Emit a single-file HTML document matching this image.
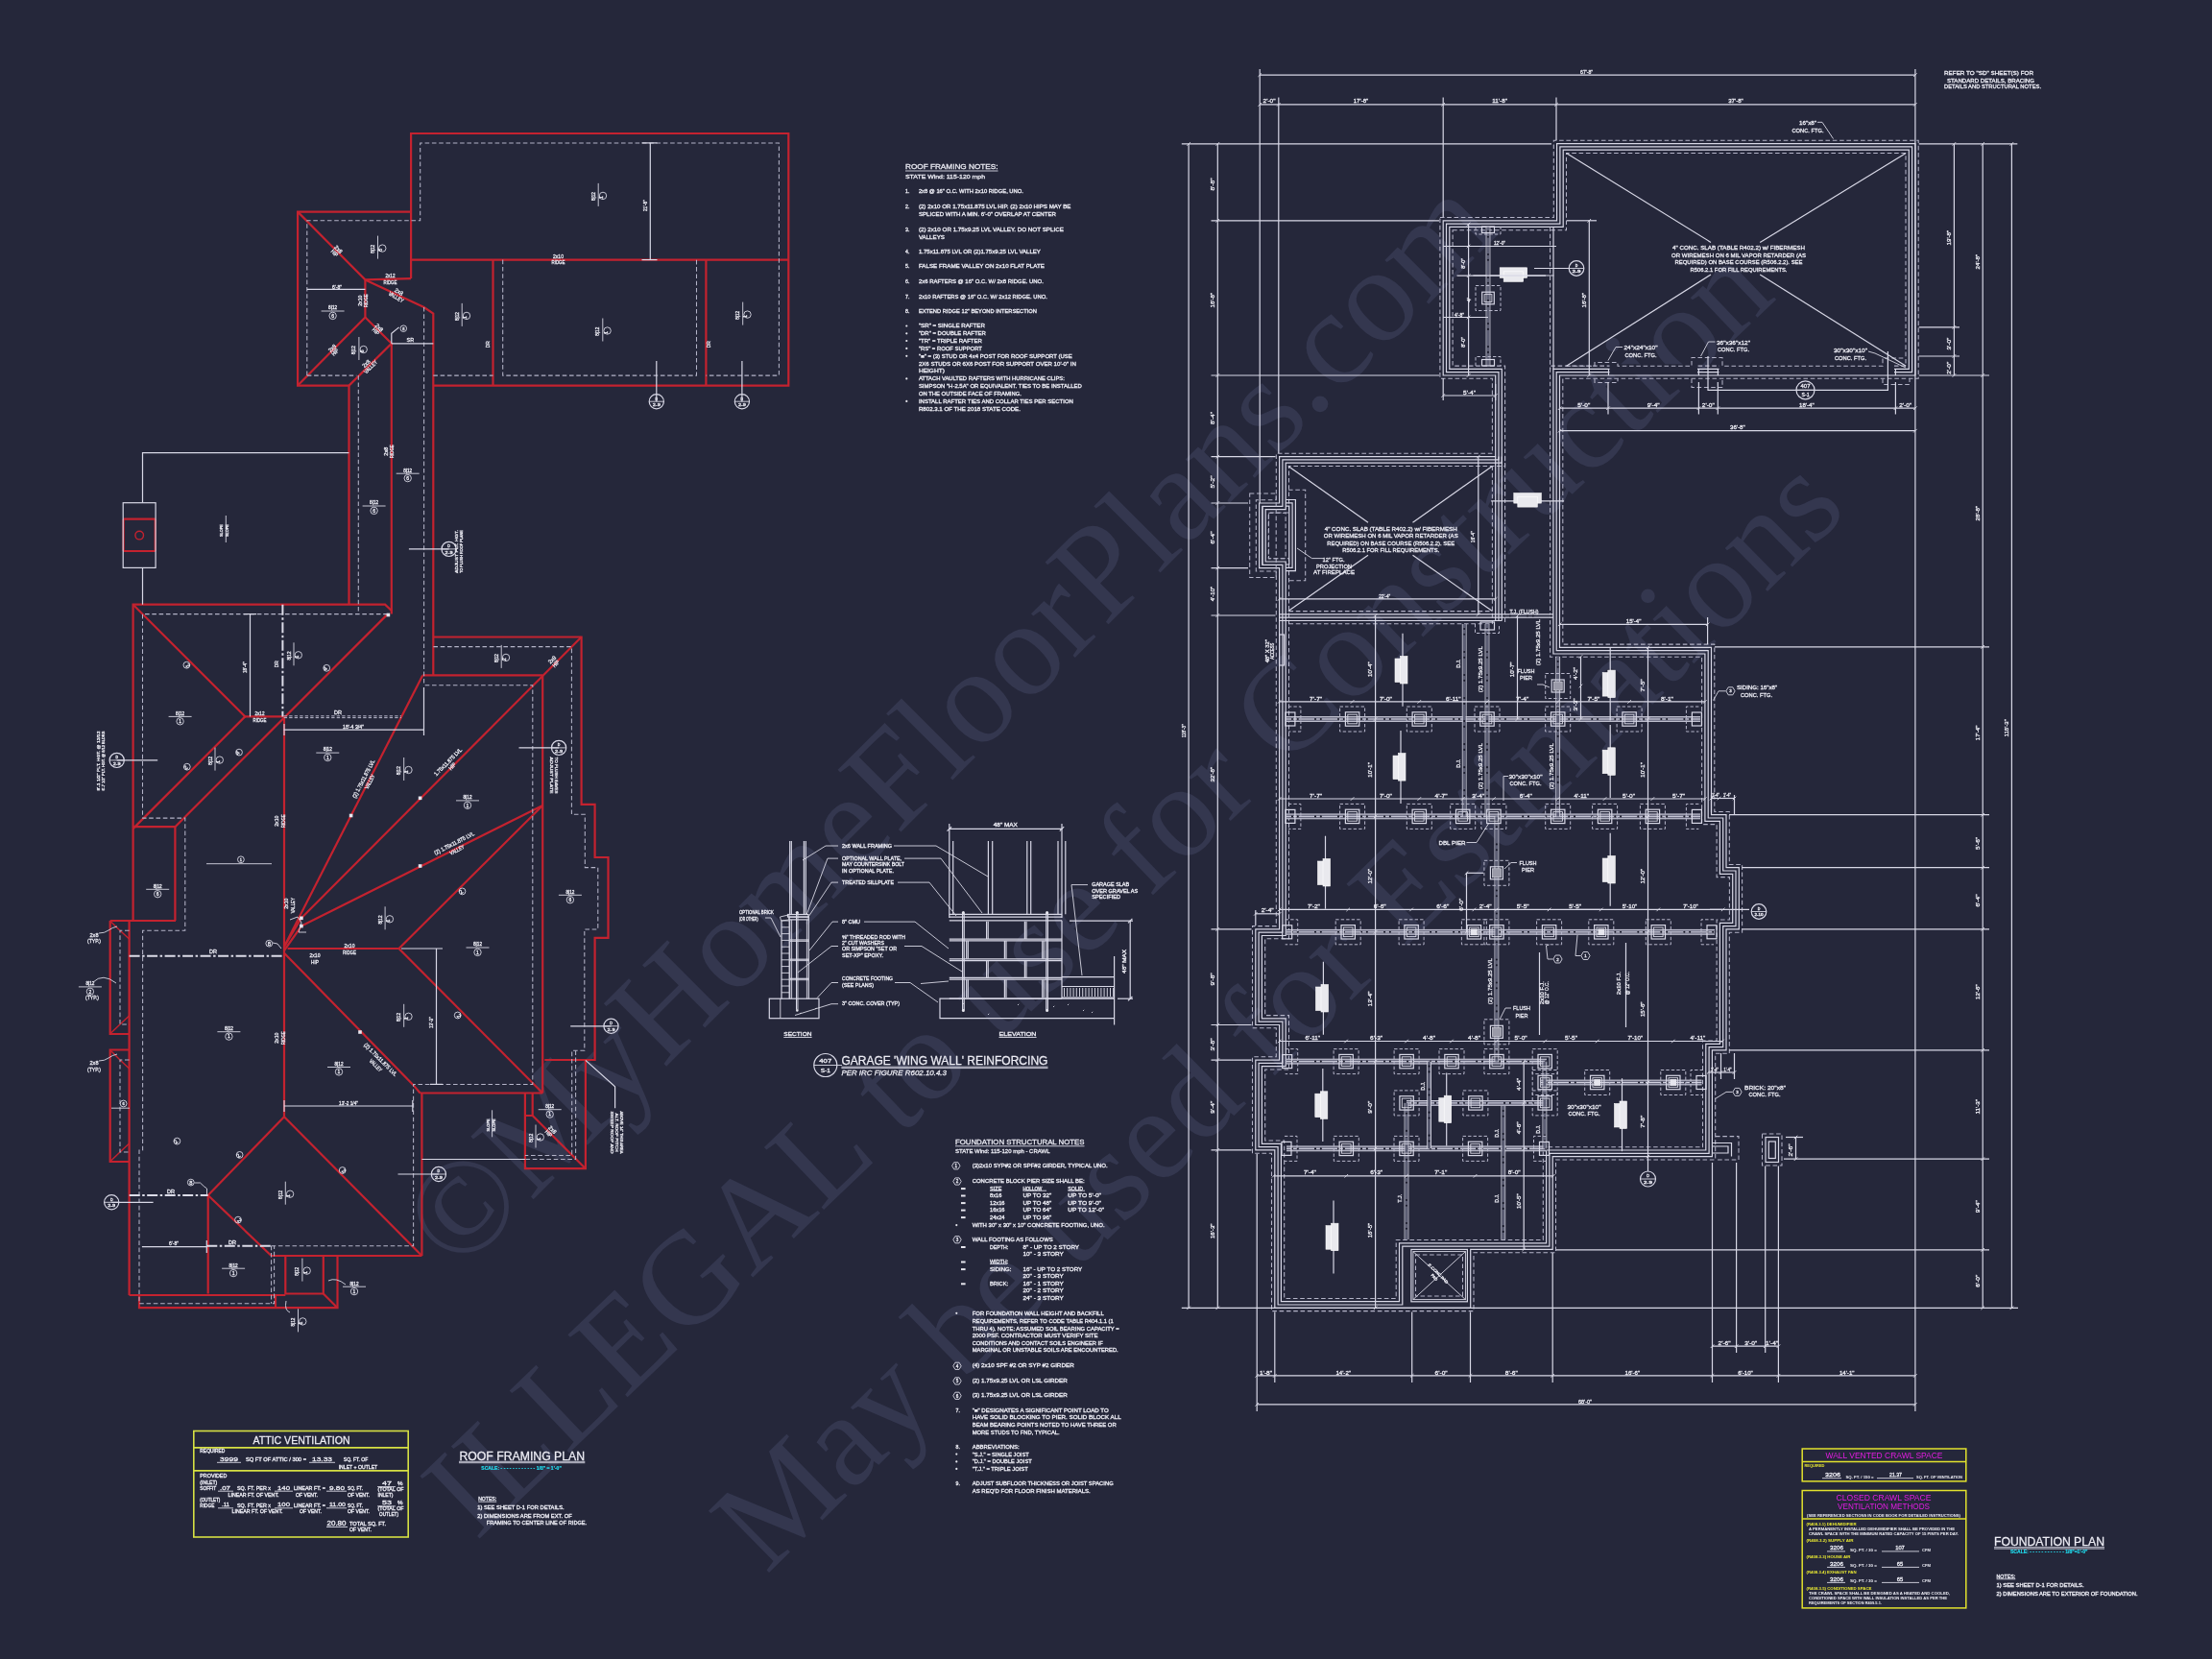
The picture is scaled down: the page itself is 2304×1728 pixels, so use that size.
<!DOCTYPE html>
<html><head><meta charset="utf-8"><title>Plan</title>
<style>
html,body{margin:0;padding:0;background:#25273a;}
body{width:2304px;height:1728px;overflow:hidden;}
svg{display:block;font-family:"Liberation Sans",sans-serif;will-change:transform;}
path,rect,circle,polygon{fill:none;stroke-linecap:butt;stroke-linejoin:miter;}
.r{stroke:#c4222f;stroke-width:2.2;}
.r1{stroke:#c4222f;stroke-width:1.4;}
.w{stroke:#d8d8e6;stroke-width:1.2;}
.w2{stroke:#e4e4ee;stroke-width:2;}
.wt{stroke:#d8d8e4;stroke-width:.9;}
.d{stroke:#b4b4c8;stroke-width:1.05;stroke-dasharray:4.6 2.7;}
.dd{stroke:#dcdce8;stroke-width:2;stroke-dasharray:11 2.5 2.5 2.5;}
.ds{stroke:#b8b8cc;stroke-width:1;stroke-dasharray:3.4 2.1;}
.y{stroke:#d6e043;stroke-width:1.6;}
.y2{stroke:#e2e22e;stroke-width:1.5;}
.wf{fill:#e6e6ee;stroke:none;}
.wf2{fill:#e9e9ee;stroke:#ffffff;stroke-width:.6;}
.wh{fill:#9a9aa8;stroke:#e0e0e8;stroke-width:.6;}
.bg{fill:#25273a;stroke:none;}
.grav{stroke:#d0d0dc;stroke-width:9;stroke-dasharray:1 2.2;}
.gdot{stroke:#1b1c2b;stroke-width:2.1;stroke-linecap:round;stroke-dasharray:0.01 5.8 0.01 18.2;}
.wg{stroke:#5c5e74;stroke-width:2.8;}
.wl{stroke:#d4d4e2;stroke-width:.95;}
.wband{stroke:#6e6f84;stroke-width:5.2;}
.t{fill:#ececf4;stroke:#ececf4;stroke-width:.28px;}
.tb{fill:#eeeef6;font-weight:bold;}
.ty{fill:#e8e832;font-weight:bold;}
.tm{fill:#e21de2;}
.tcy{fill:#22dcee;font-weight:bold;stroke:#22dcee;stroke-width:.2px;}
.wm{fill:#34374f;font-family:"Liberation Serif",serif;}
</style></head><body>
<svg width="2304" height="1728" viewBox="0 0 2304 1728">
<g class="wm">
<text font-size="141" transform="translate(477,1327.8) rotate(-45)">©MyHomeFloorPlans.com</text>
<text font-size="137.6" transform="translate(496.1,1605.9) rotate(-43.7)">ILLEGAL to use for Construction</text>
<text font-size="137.5" transform="translate(798.2,1640.8) rotate(-44.5)">May be used for Estimations</text>
</g>
<path class="r" d="M428.1 290.1L428.1 139L821.3 139L821.3 401.6L451.3 401.6"/>
<path class="r" d="M428.1 270.6L821.3 270.6"/>
<path class="r" d="M513.5 270.6L513.5 401.6"/>
<path class="r" d="M735.4 270.6L735.4 401.6"/>
<path class="r" d="M428.1 220.6L310.1 220.6L310.1 401.6L363.5 401.6L363.5 629.7"/>
<path class="r" d="M310.1 220.6L380.4 291.4L428.1 290.1"/>
<path class="r" d="M380.4 291.4L380.4 330.5L310.1 401.6"/>
<path class="r" d="M380.4 330.5L407.8 357.8L363.5 401.6"/>
<path class="r" d="M380.4 291.4L441.6 320L451.3 326.6L451.3 703.4"/>
<path class="r" d="M407.8 357.8L407.8 639.6"/>
<path class="r" d="M138.6 959L138.6 629.7L401.1 629.7L407.8 636"/>
<path class="r" d="M138.6 629.7L255.3 746.4L296 746.4"/>
<path class="r" d="M403.8 639.6L182.4 861.2"/>
<path class="r" d="M255.3 746.4L138.6 863.1"/>
<path class="r" d="M296 746.4L296 1163.3"/>
<path class="r" d="M138.6 861.2L182.4 861.2L182.4 959"/>
<path class="r" d="M114.7 959L183 959"/>
<path class="r" d="M114.7 959L114.7 1077L134.6 1077"/>
<path class="r" d="M134.6 959L134.6 1349"/>
<path class="r" d="M134.6 1093.5L114.7 1093.5L114.7 1210L134.6 1210"/>
<path class="r1" d="M115.5 960L125 969.3"/>
<path class="r1" d="M125 1067L115.5 1076"/>
<path class="r1" d="M115.5 1094.5L125 1104"/>
<path class="r1" d="M125 1200L115.5 1209"/>
<path class="r1" d="M125 969.3L134.6 978"/>
<path class="r1" d="M125 1067L134.6 1058"/>
<path class="r1" d="M125 1104L134.6 1113"/>
<path class="r1" d="M125 1200L134.6 1191"/>
<path class="r" d="M299.6 988L415.5 988"/>
<path class="r" d="M296 986L440.2 703.4"/>
<path class="r" d="M605.6 663.5L313.9 956.3"/>
<path class="r" d="M313.9 964.6L565.2 839"/>
<path class="r" d="M415.5 988L565.2 839"/>
<path class="r" d="M415.5 988L565.2 1138.5"/>
<path class="r" d="M296 992.7L429.8 1129.4L437.6 1138.5"/>
<path class="r" d="M296 986L313.9 956.3"/>
<path class="r" d="M296 990L313.9 964.6"/>
<path class="r" d="M565.2 703.4L565.2 1138.5"/>
<path class="r" d="M437.6 1138.5L565.2 1138.5"/>
<path class="r" d="M439.4 1138.5L439.4 1308"/>
<path class="r" d="M440.2 703.4L565.2 703.4"/>
<path class="r" d="M451.3 663.5L605.6 663.5L605.6 837.8L619.6 837.8L619.6 893L633.5 893L633.5 976.8L619.6 976.8L619.6 1104L567.3 1104"/>
<path class="r" d="M296 1163.3L216.7 1245"/>
<path class="r" d="M296 1163.3L439.4 1308"/>
<path class="r" d="M216.7 1245L282.6 1308"/>
<path class="r" d="M216.7 1245L216.7 1347.5"/>
<path class="r" d="M134.6 1349L297.3 1349"/>
<path class="r" d="M145 1349L145 1362.2L351.5 1362.2L351.5 1308"/>
<path class="r" d="M282.6 1308L439.4 1308"/>
<path class="r" d="M297.3 1308L297.3 1347.5L336.8 1347.5L336.8 1308"/>
<path class="r" d="M336.8 1347.5L351.5 1362.2"/>
<path class="r" d="M287 1349L287 1362.2"/>
<path class="r" d="M546.9 1138.1L546.9 1217.2L609.9 1217.2L609.9 1104"/>
<path class="r" d="M546.9 1162L554.7 1162L554.7 1138.1"/>
<path class="r" d="M554.7 1162L609.4 1216.7"/>
<path class="r" d="M128.2 540.6L162.1 540.6"/>
<path class="r" d="M128.2 574L162.1 574"/>
<path class="r" d="M128.6 540.6L128.6 574"/>
<path class="r" d="M161.7 540.6L161.7 574"/>
<circle class="r1" cx="145.2" cy="557.6" r="4.3"/>
<rect class="w" x="128.2" y="523.7" width="33.9" height="67.7"/>
<path class="w" d="M363.4 471.6L148.5 471.6L148.5 523.7"/>
<path class="w" d="M148.5 591.4L148.5 629.7"/>
<path class="d" d="M319.8 391.1L319.8 229.7L437.7 229.7L437.7 148.9L811.4 148.9L811.4 391.1L735.4 391.1"/>
<path class="d" d="M319.8 391.1L371.3 391.1"/>
<path class="d" d="M451.3 391.1L513.5 391.1"/>
<path class="d" d="M523.7 270.6L523.7 391.1L725.5 391.1L725.5 270.6"/>
<path class="d" d="M441.6 320L441.6 713.8"/>
<path class="d" d="M373.3 391.1L373.3 639.6"/>
<path class="d" d="M403.8 639.6L148.5 639.6L148.5 852.1L192.8 852.1L192.8 969.3L148.6 969.3L148.6 1198L145 1198L145 1357.8L285.6 1357.8L285.6 1297.7"/>
<path class="d" d="M282.6 1297.7L282.6 1357.8"/>
<path class="d" d="M282.6 1297.7L430.6 1297.7L430.6 1129.4L554.8 1129.4L554.8 713.8L441.5 713.8"/>
<path class="d" d="M451.4 673.6L595.4 673.6L595.4 848.3L609.3 848.3L609.3 903.6L622.8 903.6L622.8 967.9L608.8 967.9L608.8 1094.3L595.7 1094.3L595.7 1203.5L546.9 1203.5"/>
<path class="d" d="M599.6 1094.3L599.6 1207.4L546.9 1207.4"/>
<path class="d" d="M134.6 969.3L125 969.3L125 1067L134.6 1067"/>
<path class="d" d="M134.6 1104L125 1104L125 1200L134.6 1200"/>
<path class="w" d="M677.3 148.9L677.3 270.6"/>
<path class="w" d="M668.5 148.9L684.5 148.9"/>
<path class="w" d="M668.5 270.6L684.5 270.6"/>
<path class="w" d="M319.8 301.4L380.4 301.4"/>
<path class="w" d="M260.5 639.6L260.5 746.4"/>
<path class="w" d="M254 639.6L267 639.6"/>
<path class="dd" d="M294.4 629.7L294.4 746.4"/>
<path class="ds" d="M295.7 745.8L418 745.8"/>
<path class="ds" d="M295.7 747.6L418 747.6"/>
<path class="w" d="M295.7 760.2L441.5 760.2"/>
<path class="w" d="M441.5 716L441.5 766"/>
<path class="w" d="M296 754L296 766"/>
<path class="w" d="M454.5 988L454.5 1129.4"/>
<path class="w" d="M418 988L461 988"/>
<path class="w" d="M448 1129.4L461 1129.4"/>
<path class="w" d="M296 1152L429.8 1152"/>
<path class="w" d="M296 1146L296 1158"/>
<path class="w" d="M429.8 1146L429.8 1158"/>
<path class="dd" d="M134.6 995.8L296 995.8"/>
<path class="dd" d="M134.7 1245L216.7 1245"/>
<path class="dd" d="M215.3 1297.7L282.6 1297.7"/>
<path class="w" d="M147.9 1298.6L215.3 1298.6"/>
<path class="w" d="M215.3 1292L215.3 1305"/>
<path class="w" d="M439.4 1207.5L546.9 1207.5"/>
<path class="w" d="M609.9 1104.4L640.6 1131.8L640.6 1154.2"/>
<rect class="wf" x="363.8" y="847.7" width="3.6" height="3.6"/>
<rect class="wf" x="435.8" y="829.5" width="3.6" height="3.6"/>
<rect class="wf" x="435.8" y="900.2" width="3.6" height="3.6"/>
<rect class="wf" x="312.1" y="954.5" width="3.6" height="3.6"/>
<rect class="wf" x="312.1" y="962.8" width="3.6" height="3.6"/>
<rect class="wf" x="373.2" y="1073.2" width="3.6" height="3.6"/>
<rect class="wf" x="402.6" y="638.7" width="3.6" height="3.6"/>
<path class="wt" d="M623.2 190.9L623.2 214.9"/>
<text class="t" x="619.8" y="204.6" font-size="4.6" text-anchor="middle" transform="rotate(-90 619.8 204.6)" textLength="9" lengthAdjust="spacingAndGlyphs">8|12</text>
<circle class="wt" cx="628" cy="203.9" r="3.7"/>
<text class="t" x="628" y="205.7" font-size="5" text-anchor="middle" transform="rotate(-90 628 205.7)">1</text>
<path class="wt" d="M393.5 245.6L393.5 269.6"/>
<text class="t" x="390.1" y="259.3" font-size="4.6" text-anchor="middle" transform="rotate(-90 390.1 259.3)" textLength="9" lengthAdjust="spacingAndGlyphs">8|12</text>
<circle class="wt" cx="398.3" cy="258.6" r="3.7"/>
<text class="t" x="398.3" y="260.4" font-size="5" text-anchor="middle" transform="rotate(-90 398.3 260.4)">6</text>
<path class="wt" d="M481.2 315.9L481.2 339.9"/>
<text class="t" x="477.8" y="329.6" font-size="4.6" text-anchor="middle" transform="rotate(-90 477.8 329.6)" textLength="9" lengthAdjust="spacingAndGlyphs">8|12</text>
<circle class="wt" cx="486" cy="328.9" r="3.7"/>
<text class="t" x="486" y="330.7" font-size="5" text-anchor="middle" transform="rotate(-90 486 330.7)">1</text>
<path class="wt" d="M627.8 331.5L627.8 355.5"/>
<text class="t" x="624.4" y="345.2" font-size="4.6" text-anchor="middle" transform="rotate(-90 624.4 345.2)" textLength="9" lengthAdjust="spacingAndGlyphs">8|12</text>
<circle class="wt" cx="632.6" cy="344.5" r="3.7"/>
<text class="t" x="632.6" y="346.3" font-size="5" text-anchor="middle" transform="rotate(-90 632.6 346.3)">1</text>
<path class="wt" d="M773.7 314.6L773.7 338.6"/>
<text class="t" x="770.3" y="328.3" font-size="4.6" text-anchor="middle" transform="rotate(-90 770.3 328.3)" textLength="9" lengthAdjust="spacingAndGlyphs">8|12</text>
<circle class="wt" cx="778.5" cy="327.6" r="3.7"/>
<text class="t" x="778.5" y="329.4" font-size="5" text-anchor="middle" transform="rotate(-90 778.5 329.4)">1</text>
<path class="wt" d="M373.9 351L373.9 375"/>
<text class="t" x="370.5" y="364.7" font-size="4.6" text-anchor="middle" transform="rotate(-90 370.5 364.7)" textLength="9" lengthAdjust="spacingAndGlyphs">8|12</text>
<circle class="wt" cx="378.7" cy="364" r="3.7"/>
<text class="t" x="378.7" y="365.8" font-size="5" text-anchor="middle" transform="rotate(-90 378.7 365.8)">6</text>
<path class="wt" d="M306 669.3L306 693.3"/>
<text class="t" x="302.6" y="683" font-size="4.6" text-anchor="middle" transform="rotate(-90 302.6 683)" textLength="9" lengthAdjust="spacingAndGlyphs">8|12</text>
<circle class="wt" cx="310.8" cy="682.3" r="3.7"/>
<text class="t" x="310.8" y="684.1" font-size="5" text-anchor="middle" transform="rotate(-90 310.8 684.1)">1</text>
<path class="wt" d="M522.2 671.9L522.2 695.9"/>
<text class="t" x="518.8" y="685.6" font-size="4.6" text-anchor="middle" transform="rotate(-90 518.8 685.6)" textLength="9" lengthAdjust="spacingAndGlyphs">8|12</text>
<circle class="wt" cx="527" cy="684.9" r="3.7"/>
<text class="t" x="527" y="686.7" font-size="5" text-anchor="middle" transform="rotate(-90 527 686.7)">2</text>
<path class="wt" d="M224 778.6L224 802.6"/>
<text class="t" x="220.6" y="792.3" font-size="4.6" text-anchor="middle" transform="rotate(-90 220.6 792.3)" textLength="9" lengthAdjust="spacingAndGlyphs">8|12</text>
<circle class="wt" cx="228.8" cy="791.6" r="3.7"/>
<text class="t" x="228.8" y="793.4" font-size="5" text-anchor="middle" transform="rotate(-90 228.8 793.4)">1</text>
<path class="wt" d="M420.7 789L420.7 813"/>
<text class="t" x="417.3" y="802.7" font-size="4.6" text-anchor="middle" transform="rotate(-90 417.3 802.7)" textLength="9" lengthAdjust="spacingAndGlyphs">8|12</text>
<circle class="wt" cx="425.5" cy="802" r="3.7"/>
<text class="t" x="425.5" y="803.8" font-size="5" text-anchor="middle" transform="rotate(-90 425.5 803.8)">1</text>
<path class="wt" d="M401.1 944.3L401.1 968.3"/>
<text class="t" x="397.7" y="958" font-size="4.6" text-anchor="middle" transform="rotate(-90 397.7 958)" textLength="9" lengthAdjust="spacingAndGlyphs">8|12</text>
<circle class="wt" cx="405.9" cy="957.3" r="3.7"/>
<text class="t" x="405.9" y="959.1" font-size="5" text-anchor="middle" transform="rotate(-90 405.9 959.1)">1</text>
<path class="wt" d="M420.7 1045.8L420.7 1069.8"/>
<text class="t" x="417.3" y="1059.5" font-size="4.6" text-anchor="middle" transform="rotate(-90 417.3 1059.5)" textLength="9" lengthAdjust="spacingAndGlyphs">8|12</text>
<circle class="wt" cx="425.5" cy="1058.8" r="3.7"/>
<text class="t" x="425.5" y="1060.6" font-size="5" text-anchor="middle" transform="rotate(-90 425.5 1060.6)">1</text>
<path class="wt" d="M297.3 1230.7L297.3 1254.7"/>
<text class="t" x="293.9" y="1244.4" font-size="4.6" text-anchor="middle" transform="rotate(-90 293.9 1244.4)" textLength="9" lengthAdjust="spacingAndGlyphs">8|12</text>
<circle class="wt" cx="302.1" cy="1243.7" r="3.7"/>
<text class="t" x="302.1" y="1245.5" font-size="5" text-anchor="middle" transform="rotate(-90 302.1 1245.5)">1</text>
<path class="wt" d="M314.9 1310.6L314.9 1334.6"/>
<text class="t" x="311.5" y="1324.3" font-size="4.6" text-anchor="middle" transform="rotate(-90 311.5 1324.3)" textLength="9" lengthAdjust="spacingAndGlyphs">8|12</text>
<circle class="wt" cx="319.7" cy="1323.6" r="3.7"/>
<text class="t" x="319.7" y="1325.4" font-size="5" text-anchor="middle" transform="rotate(-90 319.7 1325.4)">1</text>
<path class="wt" d="M558 1171.5L558 1195.5"/>
<text class="t" x="554.6" y="1185.2" font-size="4.6" text-anchor="middle" transform="rotate(-90 554.6 1185.2)" textLength="9" lengthAdjust="spacingAndGlyphs">8|12</text>
<circle class="wt" cx="562.8" cy="1184.5" r="3.7"/>
<text class="t" x="562.8" y="1186.3" font-size="5" text-anchor="middle" transform="rotate(-90 562.8 1186.3)">1</text>
<path class="wt" d="M310.5 1363.4L310.5 1387.4"/>
<text class="t" x="307.1" y="1377.1" font-size="4.6" text-anchor="middle" transform="rotate(-90 307.1 1377.1)" textLength="9" lengthAdjust="spacingAndGlyphs">8|12</text>
<circle class="wt" cx="315.3" cy="1376.4" r="3.7"/>
<text class="t" x="315.3" y="1378.2" font-size="5" text-anchor="middle" transform="rotate(-90 315.3 1378.2)">1</text>
<path class="wt" d="M334.6 324L358.6 324"/>
<text class="t" x="346.6" y="322.3" font-size="4.6" text-anchor="middle" textLength="9" lengthAdjust="spacingAndGlyphs">8|12</text>
<circle class="wt" cx="346.6" cy="328.9" r="3.7"/>
<text class="t" x="346.6" y="330.7" font-size="5" text-anchor="middle">6</text>
<path class="wt" d="M412.7 493.2L436.7 493.2"/>
<text class="t" x="424.7" y="491.5" font-size="4.6" text-anchor="middle" textLength="9" lengthAdjust="spacingAndGlyphs">8|12</text>
<circle class="wt" cx="424.7" cy="498.1" r="3.7"/>
<text class="t" x="424.7" y="499.9" font-size="5" text-anchor="middle">6</text>
<path class="wt" d="M377.6 527L401.6 527"/>
<text class="t" x="389.6" y="525.3" font-size="4.6" text-anchor="middle" textLength="9" lengthAdjust="spacingAndGlyphs">8|12</text>
<circle class="wt" cx="389.6" cy="531.9" r="3.7"/>
<text class="t" x="389.6" y="533.7" font-size="5" text-anchor="middle">6</text>
<path class="wt" d="M175.6 746.4L199.6 746.4"/>
<text class="t" x="187.6" y="744.7" font-size="4.6" text-anchor="middle" textLength="9" lengthAdjust="spacingAndGlyphs">8|12</text>
<circle class="wt" cx="187.6" cy="751.3" r="3.7"/>
<text class="t" x="187.6" y="753.1" font-size="5" text-anchor="middle">1</text>
<path class="wt" d="M329.3 784.1L353.3 784.1"/>
<text class="t" x="341.3" y="782.4" font-size="4.6" text-anchor="middle" textLength="9" lengthAdjust="spacingAndGlyphs">8|12</text>
<circle class="wt" cx="341.3" cy="789" r="3.7"/>
<text class="t" x="341.3" y="790.8" font-size="5" text-anchor="middle">1</text>
<path class="wt" d="M475 833.9L499 833.9"/>
<text class="t" x="487" y="832.2" font-size="4.6" text-anchor="middle" textLength="9" lengthAdjust="spacingAndGlyphs">8|12</text>
<circle class="wt" cx="487" cy="838.8" r="3.7"/>
<text class="t" x="487" y="840.6" font-size="5" text-anchor="middle">1</text>
<path class="wt" d="M152.2 926.3L176.2 926.3"/>
<text class="t" x="164.2" y="924.6" font-size="4.6" text-anchor="middle" textLength="9" lengthAdjust="spacingAndGlyphs">8|12</text>
<circle class="wt" cx="164.2" cy="931.2" r="3.7"/>
<text class="t" x="164.2" y="933" font-size="5" text-anchor="middle">6</text>
<path class="wt" d="M581.9 932.3L605.9 932.3"/>
<text class="t" x="593.9" y="930.6" font-size="4.6" text-anchor="middle" textLength="9" lengthAdjust="spacingAndGlyphs">8|12</text>
<circle class="wt" cx="593.9" cy="937.2" r="3.7"/>
<text class="t" x="593.9" y="939" font-size="5" text-anchor="middle">6</text>
<path class="wt" d="M485.5 987L509.5 987"/>
<text class="t" x="497.5" y="985.3" font-size="4.6" text-anchor="middle" textLength="9" lengthAdjust="spacingAndGlyphs">8|12</text>
<circle class="wt" cx="497.5" cy="991.9" r="3.7"/>
<text class="t" x="497.5" y="993.7" font-size="5" text-anchor="middle">1</text>
<path class="wt" d="M226.4 1074.7L250.4 1074.7"/>
<text class="t" x="238.4" y="1073" font-size="4.6" text-anchor="middle" textLength="9" lengthAdjust="spacingAndGlyphs">8|12</text>
<circle class="wt" cx="238.4" cy="1079.6" r="3.7"/>
<text class="t" x="238.4" y="1081.4" font-size="5" text-anchor="middle">1</text>
<path class="wt" d="M341 1111.5L365 1111.5"/>
<text class="t" x="353" y="1109.8" font-size="4.6" text-anchor="middle" textLength="9" lengthAdjust="spacingAndGlyphs">8|12</text>
<circle class="wt" cx="353" cy="1116.4" r="3.7"/>
<text class="t" x="353" y="1118.2" font-size="5" text-anchor="middle">1</text>
<path class="wt" d="M81.9 1027.9L105.9 1027.9"/>
<text class="t" x="93.9" y="1026.2" font-size="4.6" text-anchor="middle" textLength="9" lengthAdjust="spacingAndGlyphs">8|12</text>
<circle class="wt" cx="93.9" cy="1032.8" r="3.7"/>
<text class="t" x="93.9" y="1034.6" font-size="5" text-anchor="middle">2</text>
<path class="wt" d="M231.1 1321.2L255.1 1321.2"/>
<text class="t" x="243.1" y="1319.5" font-size="4.6" text-anchor="middle" textLength="9" lengthAdjust="spacingAndGlyphs">8|12</text>
<circle class="wt" cx="243.1" cy="1326.1" r="3.7"/>
<text class="t" x="243.1" y="1327.9" font-size="5" text-anchor="middle">1</text>
<path class="wt" d="M560.7 1155.7L584.7 1155.7"/>
<text class="t" x="572.7" y="1154" font-size="4.6" text-anchor="middle" textLength="9" lengthAdjust="spacingAndGlyphs">8|12</text>
<circle class="wt" cx="572.7" cy="1160.6" r="3.7"/>
<text class="t" x="572.7" y="1162.4" font-size="5" text-anchor="middle">1</text>
<path class="wt" d="M357 1340.2L381 1340.2"/>
<text class="t" x="369" y="1338.5" font-size="4.6" text-anchor="middle" textLength="9" lengthAdjust="spacingAndGlyphs">8|12</text>
<circle class="wt" cx="369" cy="1345.1" r="3.7"/>
<text class="t" x="369" y="1346.9" font-size="5" text-anchor="middle">1</text>
<path class="wt" d="M235.3 537L235.3 565"/>
<text class="t" x="232.3" y="552.6" font-size="4.4" text-anchor="middle" transform="rotate(-90 232.3 552.6)" textLength="13" lengthAdjust="spacingAndGlyphs">SLOPE</text>
<text class="t" x="238.3" y="552.6" font-size="4.4" text-anchor="middle" transform="rotate(-90 238.3 552.6)" textLength="13" lengthAdjust="spacingAndGlyphs">SLOPE</text>
<path class="wt" d="M512.6 1156.3L512.6 1184.3"/>
<text class="t" x="509.6" y="1171.9" font-size="4.4" text-anchor="middle" transform="rotate(-90 509.6 1171.9)" textLength="13" lengthAdjust="spacingAndGlyphs">SLOPE</text>
<text class="t" x="515.6" y="1171.9" font-size="4.4" text-anchor="middle" transform="rotate(-90 515.6 1171.9)" textLength="13" lengthAdjust="spacingAndGlyphs">SLOPE</text>
<path class="wt" d="M215 899.7L283 899.7"/>
<circle class="wt" cx="250.9" cy="895.3" r="3.4"/>
<text class="t" x="250.9" y="896.7" font-size="4" text-anchor="middle">1</text>
<path class="wt" d="M116 1154.2L135 1154.2"/>
<circle class="wt" cx="128.6" cy="1149.5" r="3.4"/>
<text class="t" x="128.6" y="1150.9" font-size="4" text-anchor="middle">6</text>
<circle class="wt" cx="194.4" cy="692.7" r="3.4"/>
<text class="t" x="194.4" y="694.8" font-size="5.8" text-anchor="middle" transform="rotate(45 194.4 694.8)">2</text>
<circle class="wt" cx="340.2" cy="695.8" r="3.4"/>
<text class="t" x="340.2" y="697.9" font-size="5.8" text-anchor="middle" transform="rotate(-45 340.2 697.9)">4</text>
<circle class="wt" cx="194.8" cy="798.7" r="3.4"/>
<text class="t" x="194.8" y="800.8" font-size="5.8" text-anchor="middle" transform="rotate(-45 194.8 800.8)">2</text>
<circle class="wt" cx="249" cy="783.6" r="3.4"/>
<text class="t" x="249" y="785.7" font-size="5.8" text-anchor="middle" transform="rotate(-45 249 785.7)">4</text>
<circle class="wt" cx="481.5" cy="928.4" r="3.4"/>
<text class="t" x="481.5" y="930.5" font-size="5.8" text-anchor="middle" transform="rotate(-40 481.5 930.5)">2</text>
<circle class="wt" cx="476.7" cy="1057.5" r="3.4"/>
<text class="t" x="476.7" y="1059.6" font-size="5.8" text-anchor="middle" transform="rotate(45 476.7 1059.6)">2</text>
<circle class="wt" cx="184.4" cy="1188.6" r="3.4"/>
<text class="t" x="184.4" y="1190.7" font-size="5.8" text-anchor="middle" transform="rotate(-45 184.4 1190.7)">2</text>
<circle class="wt" cx="249.6" cy="1202.9" r="3.4"/>
<text class="t" x="249.6" y="1205" font-size="5.8" text-anchor="middle" transform="rotate(-45 249.6 1205)">2</text>
<circle class="wt" cx="356.7" cy="1219" r="3.4"/>
<text class="t" x="356.7" y="1221.1" font-size="5.8" text-anchor="middle" transform="rotate(45 356.7 1221.1)">2</text>
<circle class="wt" cx="248" cy="1270.6" r="3.4"/>
<text class="t" x="248" y="1272.7" font-size="5.8" text-anchor="middle" transform="rotate(45 248 1272.7)">2</text>
<circle class="wt" cx="280.3" cy="982.7" r="3.4"/>
<text class="t" x="280.3" y="984.8" font-size="5.8" text-anchor="middle">8</text>
<circle class="wt" cx="198.8" cy="1231.6" r="3.4"/>
<text class="t" x="198.8" y="1233.7" font-size="5.8" text-anchor="middle">8</text>
<circle class="w" cx="683.8" cy="418.2" r="7.6"/>
<path class="wt" d="M676.2 418.2L691.4 418.2"/>
<text class="t" x="683.8" y="416.5" font-size="3.6" text-anchor="middle">D</text>
<text class="t" x="683.8" y="423.1" font-size="4.4" text-anchor="middle" textLength="8" lengthAdjust="spacingAndGlyphs">2-9</text>
<path class="w" d="M683.8 376L683.8 418.2"/>
<circle class="w" cx="772.9" cy="418.2" r="7.6"/>
<path class="wt" d="M765.3 418.2L780.5 418.2"/>
<text class="t" x="772.9" y="416.5" font-size="3.6" text-anchor="middle">D</text>
<text class="t" x="772.9" y="423.1" font-size="4.4" text-anchor="middle" textLength="8" lengthAdjust="spacingAndGlyphs">2-9</text>
<path class="w" d="M772.9 376L772.9 418.2"/>
<circle class="w" cx="467.6" cy="571.9" r="7.6"/>
<path class="wt" d="M460 571.9L475.2 571.9"/>
<text class="t" x="467.6" y="570.2" font-size="3.6" text-anchor="middle">D</text>
<text class="t" x="467.6" y="576.8" font-size="4.4" text-anchor="middle" textLength="8" lengthAdjust="spacingAndGlyphs">2-9</text>
<path class="w" d="M425.9 571.9L467.6 571.9"/>
<circle class="w" cx="121.7" cy="791.9" r="7.6"/>
<path class="wt" d="M114.1 791.9L129.3 791.9"/>
<text class="t" x="121.7" y="790.2" font-size="3.6" text-anchor="middle">D</text>
<text class="t" x="121.7" y="796.8" font-size="4.4" text-anchor="middle" textLength="8" lengthAdjust="spacingAndGlyphs">2-9</text>
<path class="w" d="M164.2 791.9L121.7 791.9"/>
<circle class="w" cx="582.1" cy="778.9" r="7.6"/>
<path class="wt" d="M574.5 778.9L589.7 778.9"/>
<text class="t" x="582.1" y="777.2" font-size="3.6" text-anchor="middle">D</text>
<text class="t" x="582.1" y="783.8" font-size="4.4" text-anchor="middle" textLength="8" lengthAdjust="spacingAndGlyphs">2-9</text>
<path class="w" d="M540.5 778.9L582.1 778.9"/>
<circle class="w" cx="116.2" cy="1252.3" r="7.6"/>
<path class="wt" d="M108.6 1252.3L123.8 1252.3"/>
<text class="t" x="116.2" y="1250.6" font-size="3.6" text-anchor="middle">D</text>
<text class="t" x="116.2" y="1257.2" font-size="4.4" text-anchor="middle" textLength="8" lengthAdjust="spacingAndGlyphs">2-9</text>
<path class="w" d="M159.6 1252.3L116.2 1252.3"/>
<circle class="w" cx="456.9" cy="1223" r="7.6"/>
<path class="wt" d="M449.3 1223L464.5 1223"/>
<text class="t" x="456.9" y="1221.3" font-size="3.6" text-anchor="middle">D</text>
<text class="t" x="456.9" y="1227.9" font-size="4.4" text-anchor="middle" textLength="8" lengthAdjust="spacingAndGlyphs">2-9</text>
<path class="w" d="M414.5 1223L456.9 1223"/>
<circle class="w" cx="636.5" cy="1068.8" r="7.6"/>
<path class="wt" d="M628.9 1068.8L644.1 1068.8"/>
<text class="t" x="636.5" y="1067.1" font-size="3.6" text-anchor="middle">D</text>
<text class="t" x="636.5" y="1073.7" font-size="4.4" text-anchor="middle" textLength="8" lengthAdjust="spacingAndGlyphs">2-9</text>
<path class="w" d="M594.2 1068.8L636.5 1068.8"/>
<text class="t" x="581.5" y="268.7" font-size="6" text-anchor="middle" textLength="11" lengthAdjust="spacingAndGlyphs">2x10</text>
<text class="t" x="581.5" y="274.7" font-size="6" text-anchor="middle" textLength="14" lengthAdjust="spacingAndGlyphs">RIDGE</text>
<text class="t" x="406.5" y="289.4" font-size="6" text-anchor="middle" textLength="10" lengthAdjust="spacingAndGlyphs">2x12</text>
<text class="t" x="406.5" y="295.7" font-size="6" text-anchor="middle" textLength="14" lengthAdjust="spacingAndGlyphs">RIDGE</text>
<text class="t" x="377.5" y="313.2" font-size="6" text-anchor="middle" transform="rotate(-90 377.5 313.2)" textLength="11" lengthAdjust="spacingAndGlyphs">2x10</text>
<text class="t" x="383.3" y="313.2" font-size="6" text-anchor="middle" transform="rotate(-90 383.3 313.2)" textLength="14" lengthAdjust="spacingAndGlyphs">RIDGE</text>
<text class="t" x="414.5" y="305.7" font-size="6" text-anchor="middle" transform="rotate(30 414.5 305.7)" textLength="9" lengthAdjust="spacingAndGlyphs">2x8</text>
<text class="t" x="411.5" y="311.2" font-size="6" text-anchor="middle" transform="rotate(30 411.5 311.2)" textLength="17" lengthAdjust="spacingAndGlyphs">VALLEY</text>
<text class="t" x="351" y="261.2" font-size="6" text-anchor="middle" transform="rotate(45 351 261.2)" textLength="9" lengthAdjust="spacingAndGlyphs">2x8</text>
<text class="t" x="347" y="265.2" font-size="6" text-anchor="middle" transform="rotate(45 347 265.2)" textLength="8" lengthAdjust="spacingAndGlyphs">HIP</text>
<text class="t" x="393.5" y="342.7" font-size="6" text-anchor="middle" transform="rotate(45 393.5 342.7)" textLength="9" lengthAdjust="spacingAndGlyphs">2x8</text>
<text class="t" x="390" y="346.7" font-size="6" text-anchor="middle" transform="rotate(45 390 346.7)" textLength="8" lengthAdjust="spacingAndGlyphs">HIP</text>
<text class="t" x="347.5" y="364.2" font-size="6" text-anchor="middle" transform="rotate(-45 347.5 364.2)" textLength="9" lengthAdjust="spacingAndGlyphs">2x8</text>
<text class="t" x="350.5" y="368.2" font-size="6" text-anchor="middle" transform="rotate(-45 350.5 368.2)" textLength="8" lengthAdjust="spacingAndGlyphs">HIP</text>
<text class="t" x="383" y="380.2" font-size="6" text-anchor="middle" transform="rotate(-45 383 380.2)" textLength="9" lengthAdjust="spacingAndGlyphs">2x8</text>
<text class="t" x="387.5" y="383.7" font-size="6" text-anchor="middle" transform="rotate(-45 387.5 383.7)" textLength="17" lengthAdjust="spacingAndGlyphs">VALLEY</text>
<text class="t" x="427.3" y="356" font-size="5.5" text-anchor="middle" textLength="7.5" lengthAdjust="spacingAndGlyphs">SR</text>
<text class="t" x="510" y="358.8" font-size="5" text-anchor="middle" transform="rotate(-90 510 358.8)" textLength="7" lengthAdjust="spacingAndGlyphs">DR</text>
<text class="t" x="740" y="358.8" font-size="5" text-anchor="middle" transform="rotate(-90 740 358.8)" textLength="7" lengthAdjust="spacingAndGlyphs">DR</text>
<text class="t" x="674" y="214.1" font-size="5.8" text-anchor="middle" transform="rotate(-90 674 214.1)" textLength="12" lengthAdjust="spacingAndGlyphs">21'-8"</text>
<text class="t" x="351" y="300.6" font-size="5.8" text-anchor="middle" textLength="10" lengthAdjust="spacingAndGlyphs">6'-8"</text>
<text class="t" x="404.3" y="470.2" font-size="6" text-anchor="middle" transform="rotate(-90 404.3 470.2)" textLength="9" lengthAdjust="spacingAndGlyphs">2x8</text>
<text class="t" x="410.5" y="470.2" font-size="6" text-anchor="middle" transform="rotate(-90 410.5 470.2)" textLength="14" lengthAdjust="spacingAndGlyphs">RIDGE</text>
<text class="t" x="477" y="574.6" font-size="4.4" text-anchor="middle" transform="rotate(-90 477 574.6)" textLength="45" lengthAdjust="spacingAndGlyphs">ADJUST PLT. HGT.</text>
<text class="t" x="482.5" y="574.6" font-size="4.4" text-anchor="middle" transform="rotate(-90 482.5 574.6)" textLength="45" lengthAdjust="spacingAndGlyphs">TO FLUSH ROOF PLANE</text>
<text class="t" x="104" y="792.6" font-size="4.4" text-anchor="middle" transform="rotate(-90 104 792.6)" textLength="62" lengthAdjust="spacingAndGlyphs">8'-1 1/2" PLT. HGT. @ 12/12</text>
<text class="t" x="109" y="792.6" font-size="4.4" text-anchor="middle" transform="rotate(-90 109 792.6)" textLength="62" lengthAdjust="spacingAndGlyphs">6'-7 1/2" PLT. HGT. @ 8/12 BLDRS</text>
<text class="t" x="573" y="807.6" font-size="4.4" text-anchor="middle" transform="rotate(90 573 807.6)" textLength="38" lengthAdjust="spacingAndGlyphs">ADJUST PLATE</text>
<text class="t" x="578" y="807.6" font-size="4.4" text-anchor="middle" transform="rotate(90 578 807.6)" textLength="38" lengthAdjust="spacingAndGlyphs">TO FLUSH EAVES</text>
<text class="t" x="257.5" y="695.1" font-size="5.8" text-anchor="middle" transform="rotate(-90 257.5 695.1)" textLength="12" lengthAdjust="spacingAndGlyphs">18'-4"</text>
<text class="t" x="290" y="691.8" font-size="5" text-anchor="middle" transform="rotate(-90 290 691.8)" textLength="7" lengthAdjust="spacingAndGlyphs">DR</text>
<text class="t" x="270.5" y="744.7" font-size="6" text-anchor="middle" textLength="10" lengthAdjust="spacingAndGlyphs">2x12</text>
<text class="t" x="270.5" y="751.7" font-size="6" text-anchor="middle" textLength="14" lengthAdjust="spacingAndGlyphs">RIDGE</text>
<text class="t" x="352" y="743.5" font-size="5.5" text-anchor="middle" textLength="8" lengthAdjust="spacingAndGlyphs">DR</text>
<text class="t" x="368" y="758.6" font-size="5.8" text-anchor="middle" textLength="22" lengthAdjust="spacingAndGlyphs">18'-4 3/4"</text>
<text class="t" x="380.5" y="812.1" font-size="5.8" text-anchor="middle" transform="rotate(-63 380.5 812.1)" textLength="44" lengthAdjust="spacingAndGlyphs">(2) 1.75x11.875 LVL</text>
<text class="t" x="387" y="815.1" font-size="5.8" text-anchor="middle" transform="rotate(-63 387 815.1)" textLength="16" lengthAdjust="spacingAndGlyphs">VALLEY</text>
<text class="t" x="468" y="795.1" font-size="5.8" text-anchor="middle" transform="rotate(-45 468 795.1)" textLength="38" lengthAdjust="spacingAndGlyphs">1.75x11.875 LVL</text>
<text class="t" x="472.5" y="799.6" font-size="5.8" text-anchor="middle" transform="rotate(-45 472.5 799.6)" textLength="8" lengthAdjust="spacingAndGlyphs">HIP</text>
<text class="t" x="290.5" y="855.2" font-size="6" text-anchor="middle" transform="rotate(-90 290.5 855.2)" textLength="11" lengthAdjust="spacingAndGlyphs">2x10</text>
<text class="t" x="297" y="855.2" font-size="6" text-anchor="middle" transform="rotate(-90 297 855.2)" textLength="14" lengthAdjust="spacingAndGlyphs">RIDGE</text>
<text class="t" x="474" y="880.1" font-size="5.8" text-anchor="middle" transform="rotate(-27 474 880.1)" textLength="46" lengthAdjust="spacingAndGlyphs">(2) 1.75x11.875 LVL</text>
<text class="t" x="477" y="887.1" font-size="5.8" text-anchor="middle" transform="rotate(-27 477 887.1)" textLength="16" lengthAdjust="spacingAndGlyphs">VALLEY</text>
<text class="t" x="300.5" y="941.2" font-size="6" text-anchor="middle" transform="rotate(-90 300.5 941.2)" textLength="11" lengthAdjust="spacingAndGlyphs">2x10</text>
<text class="t" x="307" y="943.2" font-size="6" text-anchor="middle" transform="rotate(-90 307 943.2)" textLength="16" lengthAdjust="spacingAndGlyphs">VALLEY</text>
<text class="t" x="364" y="987.2" font-size="6" text-anchor="middle" textLength="11" lengthAdjust="spacingAndGlyphs">2x10</text>
<text class="t" x="364" y="994.2" font-size="6" text-anchor="middle" textLength="14" lengthAdjust="spacingAndGlyphs">RIDGE</text>
<text class="t" x="328" y="996.7" font-size="6" text-anchor="middle" textLength="11" lengthAdjust="spacingAndGlyphs">2x10</text>
<text class="t" x="328" y="1003.7" font-size="6" text-anchor="middle" textLength="8" lengthAdjust="spacingAndGlyphs">HIP</text>
<text class="t" x="222" y="992.5" font-size="5.5" text-anchor="middle" textLength="8" lengthAdjust="spacingAndGlyphs">DR</text>
<text class="t" x="290.5" y="1081.2" font-size="6" text-anchor="middle" transform="rotate(-90 290.5 1081.2)" textLength="11" lengthAdjust="spacingAndGlyphs">2x10</text>
<text class="t" x="297" y="1081.2" font-size="6" text-anchor="middle" transform="rotate(-90 297 1081.2)" textLength="14" lengthAdjust="spacingAndGlyphs">RIDGE</text>
<text class="t" x="395" y="1105.1" font-size="5.8" text-anchor="middle" transform="rotate(45 395 1105.1)" textLength="46" lengthAdjust="spacingAndGlyphs">(2) 1.75x11.875 LVL</text>
<text class="t" x="390" y="1111.1" font-size="5.8" text-anchor="middle" transform="rotate(45 390 1111.1)" textLength="16" lengthAdjust="spacingAndGlyphs">VALLEY</text>
<text class="t" x="451.5" y="1065.1" font-size="5.8" text-anchor="middle" transform="rotate(-90 451.5 1065.1)" textLength="12" lengthAdjust="spacingAndGlyphs">13'-3"</text>
<text class="t" x="363" y="1150.6" font-size="5.8" text-anchor="middle" textLength="20" lengthAdjust="spacingAndGlyphs">13'-2 1/4"</text>
<text class="t" x="98" y="975.7" font-size="6" text-anchor="middle" textLength="9" lengthAdjust="spacingAndGlyphs">2x8</text>
<text class="t" x="98" y="982.2" font-size="6" text-anchor="middle" textLength="14" lengthAdjust="spacingAndGlyphs">(TYP.)</text>
<text class="t" x="98" y="1109.2" font-size="6" text-anchor="middle" textLength="9" lengthAdjust="spacingAndGlyphs">2x8</text>
<text class="t" x="98" y="1116.2" font-size="6" text-anchor="middle" textLength="14" lengthAdjust="spacingAndGlyphs">(TYP.)</text>
<text class="t" x="96" y="1041.2" font-size="6" text-anchor="middle" textLength="14" lengthAdjust="spacingAndGlyphs">(TYP.)</text>
<text class="t" x="178" y="1243" font-size="5.5" text-anchor="middle" textLength="8" lengthAdjust="spacingAndGlyphs">DR</text>
<text class="t" x="242" y="1295.5" font-size="5.5" text-anchor="middle" textLength="8" lengthAdjust="spacingAndGlyphs">DR</text>
<text class="t" x="181" y="1297.1" font-size="5.8" text-anchor="middle" textLength="10" lengthAdjust="spacingAndGlyphs">6'-8"</text>
<text class="t" x="576.5" y="688.7" font-size="6" text-anchor="middle" transform="rotate(-45 576.5 688.7)" textLength="9" lengthAdjust="spacingAndGlyphs">2x8</text>
<text class="t" x="580.5" y="692.7" font-size="6" text-anchor="middle" transform="rotate(-45 580.5 692.7)" textLength="8" lengthAdjust="spacingAndGlyphs">HIP</text>
<text class="t" x="574" y="1178.2" font-size="6" text-anchor="middle" transform="rotate(45 574 1178.2)" textLength="9" lengthAdjust="spacingAndGlyphs">2x8</text>
<text class="t" x="570" y="1182.2" font-size="6" text-anchor="middle" transform="rotate(45 570 1182.2)" textLength="8" lengthAdjust="spacingAndGlyphs">HIP</text>
<text class="t" x="636" y="1179.6" font-size="4.4" text-anchor="middle" transform="rotate(90 636 1179.6)" textLength="44" lengthAdjust="spacingAndGlyphs">SWEEP ROOF AND</text>
<text class="t" x="641" y="1179.6" font-size="4.4" text-anchor="middle" transform="rotate(90 641 1179.6)" textLength="40" lengthAdjust="spacingAndGlyphs">ALT. ROOF PITCH</text>
<text class="t" x="646" y="1179.6" font-size="4.4" text-anchor="middle" transform="rotate(90 646 1179.6)" textLength="44" lengthAdjust="spacingAndGlyphs">ABOVE 14" THIS AREA</text>
<path class="wt" d="M103 972 q6 0 10 -3 q4 -3 9 -4"/>
<path class="wt" d="M103 1105 q6 0 10 -3 q4 -3 9 -4"/>
<path class="wt" d="M97 1023 q10 -10 24 1"/>
<path class="wt" d="M284 982 l5 1 l4 5"/>
<path class="w" d="M407.8 357.8L407.8 347.4L415.6 340.9"/>
<circle class="wt" cx="420.3" cy="342.2" r="3.3"/>
<text class="t" x="420.3" y="343.6" font-size="4" text-anchor="middle">8</text>
<path class="w" d="M407.8 357.8L451.3 357.8"/>
<path class="wt" d="M202.5 1232 l6 0 q4 4 7 6 l0 6"/>
<path class="wt" d="M298 1355 q-2 10 4 12"/>
<path class="wt" d="M342 1334 q8 -4 18 4"/>
<path class="wt" d="M302 958 l8 -3 l4 6 l-3 10 l8 0"/>
<rect class="y" x="201.8" y="1490.5" width="223.4" height="110.5"/>
<path class="y" d="M201.8 1507.9L425.2 1507.9"/>
<path class="y" d="M201.8 1531.9L425.2 1531.9"/>
<text class="t" x="314" y="1503.5" font-size="11" text-anchor="middle" textLength="101" lengthAdjust="spacingAndGlyphs">ATTIC VENTILATION</text>
<text class="t" x="208.3" y="1513" font-size="4.6" textLength="26" lengthAdjust="spacingAndGlyphs">REQUIRED</text>
<text class="t" x="229" y="1521.5" font-size="6.2" textLength="19" lengthAdjust="spacingAndGlyphs">3999</text>
<path class="wt" d="M226 1523.3L251 1523.3"/>
<text class="t" x="256" y="1522.2" font-size="4.6" textLength="63" lengthAdjust="spacingAndGlyphs">SQ FT OF ATTIC / 300 =</text>
<text class="t" x="325" y="1521.5" font-size="6.2" textLength="21" lengthAdjust="spacingAndGlyphs">13.33</text>
<path class="wt" d="M322 1523.3L349 1523.3"/>
<text class="t" x="357.8" y="1522.2" font-size="4.6" textLength="25.5" lengthAdjust="spacingAndGlyphs">SQ. FT. OF</text>
<text class="t" x="352.7" y="1529.8" font-size="4.6" textLength="40.5" lengthAdjust="spacingAndGlyphs">INLET + OUTLET</text>
<text class="t" x="208.3" y="1539.2" font-size="4.6" textLength="28" lengthAdjust="spacingAndGlyphs">PROVIDED</text>
<text class="t" x="208.3" y="1546.3" font-size="4.6" textLength="18" lengthAdjust="spacingAndGlyphs">(INLET)</text>
<text class="t" x="208.3" y="1552.2" font-size="4.6" textLength="17" lengthAdjust="spacingAndGlyphs">SOFFIT</text>
<text class="t" x="229" y="1551.6" font-size="6.2" textLength="11" lengthAdjust="spacingAndGlyphs">.07</text>
<path class="wt" d="M227 1553.2L243 1553.2"/>
<text class="t" x="247" y="1552.2" font-size="4.6" textLength="35" lengthAdjust="spacingAndGlyphs">SQ. FT. PER x</text>
<text class="t" x="289" y="1551.6" font-size="6.2" textLength="13" lengthAdjust="spacingAndGlyphs">140</text>
<path class="wt" d="M286 1553.2L305 1553.2"/>
<text class="t" x="306" y="1552.2" font-size="4.6" textLength="33" lengthAdjust="spacingAndGlyphs">LINEAR FT. =</text>
<text class="t" x="343" y="1551.6" font-size="6.2" textLength="16" lengthAdjust="spacingAndGlyphs">9.80</text>
<path class="wt" d="M340 1553.2L361 1553.2"/>
<text class="t" x="362" y="1552.2" font-size="4.6" textLength="16" lengthAdjust="spacingAndGlyphs">SQ. FT.</text>
<text class="t" x="237.5" y="1558.5" font-size="4.6" textLength="53" lengthAdjust="spacingAndGlyphs">LINEAR FT. OF VENT.</text>
<text class="t" x="308" y="1558.5" font-size="4.6" textLength="23" lengthAdjust="spacingAndGlyphs">OF VENT.</text>
<text class="t" x="362" y="1558.5" font-size="4.6" textLength="23" lengthAdjust="spacingAndGlyphs">OF VENT.</text>
<text class="t" x="398" y="1546.5" font-size="6.2" textLength="10" lengthAdjust="spacingAndGlyphs">47</text>
<text class="t" x="414" y="1546.5" font-size="6.2">%</text>
<path class="wt" d="M393 1548.6L412 1548.6"/>
<text class="t" x="393.5" y="1552.8" font-size="4.6" textLength="27" lengthAdjust="spacingAndGlyphs">(TOTAL OF</text>
<text class="t" x="393.5" y="1558.5" font-size="4.6" textLength="16" lengthAdjust="spacingAndGlyphs">INLET)</text>
<text class="t" x="208.3" y="1564" font-size="4.6" textLength="21" lengthAdjust="spacingAndGlyphs">(OUTLET)</text>
<text class="t" x="208.3" y="1569.7" font-size="4.6" textLength="15" lengthAdjust="spacingAndGlyphs">RIDGE</text>
<text class="t" x="231" y="1569.2" font-size="6.2" textLength="8" lengthAdjust="spacingAndGlyphs">.11</text>
<path class="wt" d="M227 1570.8L243 1570.8"/>
<text class="t" x="247" y="1569.7" font-size="4.6" textLength="35" lengthAdjust="spacingAndGlyphs">SQ. FT. PER x</text>
<text class="t" x="289" y="1569.2" font-size="6.2" textLength="13" lengthAdjust="spacingAndGlyphs">100</text>
<path class="wt" d="M286 1570.8L305 1570.8"/>
<text class="t" x="306" y="1569.7" font-size="4.6" textLength="33" lengthAdjust="spacingAndGlyphs">LINEAR FT. =</text>
<text class="t" x="343" y="1569.2" font-size="6.2" textLength="17" lengthAdjust="spacingAndGlyphs">11.00</text>
<path class="wt" d="M340 1570.8L361 1570.8"/>
<text class="t" x="362" y="1569.7" font-size="4.6" textLength="16" lengthAdjust="spacingAndGlyphs">SQ. FT.</text>
<text class="t" x="241.5" y="1576.2" font-size="4.6" textLength="53" lengthAdjust="spacingAndGlyphs">LINEAR FT. OF VENT.</text>
<text class="t" x="312" y="1576.2" font-size="4.6" textLength="23" lengthAdjust="spacingAndGlyphs">OF VENT.</text>
<text class="t" x="362" y="1576.2" font-size="4.6" textLength="23" lengthAdjust="spacingAndGlyphs">OF VENT.</text>
<text class="t" x="398" y="1566.8" font-size="6.2" textLength="10" lengthAdjust="spacingAndGlyphs">53</text>
<text class="t" x="414" y="1566.8" font-size="6.2">%</text>
<path class="wt" d="M393 1568.9L412 1568.9"/>
<text class="t" x="393.5" y="1573.2" font-size="4.6" textLength="27" lengthAdjust="spacingAndGlyphs">(TOTAL OF</text>
<text class="t" x="395" y="1579" font-size="4.6" textLength="20" lengthAdjust="spacingAndGlyphs">OUTLET)</text>
<text class="t" x="340.5" y="1588.8" font-size="6.5" textLength="20" lengthAdjust="spacingAndGlyphs">20.80</text>
<path class="wt" d="M340 1590.5L362 1590.5"/>
<text class="t" x="364" y="1588.5" font-size="4.6" textLength="38" lengthAdjust="spacingAndGlyphs">TOTAL  SQ. FT.</text>
<text class="t" x="364" y="1595.2" font-size="4.6" textLength="23" lengthAdjust="spacingAndGlyphs">OF VENT.</text>
<text class="t" x="478.5" y="1520.9" font-size="12.6" textLength="130.5" lengthAdjust="spacingAndGlyphs">ROOF FRAMING PLAN</text>
<path class="wt" d="M478 1522.3L609.3 1522.3"/>
<path class="wt" d="M478 1523.7L609.3 1523.7"/>
<text class="tcy" x="501.3" y="1530.7" font-size="5.2" textLength="83.5" lengthAdjust="spacingAndGlyphs">SCALE: - - - - - - - - - - - -  1/8" = 1'-0"</text>
<text class="t" x="498.2" y="1563.2" font-size="5" textLength="19" lengthAdjust="spacingAndGlyphs">NOTES:</text>
<path class="wt" d="M498.2 1564.2L517.2 1564.2"/>
<text class="t" x="497.2" y="1571.9" font-size="5" textLength="90.5" lengthAdjust="spacingAndGlyphs">1)  SEE SHEET D-1 FOR DETAILS.</text>
<text class="t" x="497.2" y="1580.5" font-size="5" textLength="98.5" lengthAdjust="spacingAndGlyphs">2)  DIMENSIONS ARE FROM EXT. OF</text>
<text class="t" x="506.7" y="1588.2" font-size="5" textLength="104.5" lengthAdjust="spacingAndGlyphs">FRAMING TO CENTER LINE OF RIDGE.</text>
<path class="d" d="M1499.9 226.5L1618.3 226.5L1618.3 146.3L1998.2 146.3L1998.2 394.3L1627.8 394.3L1627.8 671.1L1785.8 671.1L1785.8 845.4L1801.3 845.4L1801.3 900.4L1814.6 900.4L1814.6 971.2L1801.3 971.2L1801.3 1097.2L1786.7 1097.2L1786.7 1207.9L1620.5 1207.9L1620.5 1304.7L1535 1304.7L1535 1365.6L1324.5 1365.6L1324.5 1201.2L1304.5 1201.2L1304.5 1100.8L1329.3 1100.8L1329.3 1070.8L1304.5 1070.8L1304.5 964.6L1329.3 964.6L1329.3 594.9L1308.3 594.9L1308.3 520.7L1329.3 520.7L1329.3 472.3L1554.4 472.3L1554.4 394.3L1499.9 394.3Z"/>
<path class="w" d="M1503.2 229.8L1621.6 229.8L1621.6 149.6L1994.9 149.6L1994.9 391L1624.5 391L1624.5 674.4L1782.5 674.4L1782.5 848.7L1798 848.7L1798 903.7L1811.3 903.7L1811.3 967.9L1798 967.9L1798 1093.9L1783.4 1093.9L1783.4 1204.6L1617.2 1204.6L1617.2 1301.4L1531.7 1301.4L1531.7 1362.3L1327.8 1362.3L1327.8 1197.9L1307.8 1197.9L1307.8 1104.1L1332.6 1104.1L1332.6 1067.5L1307.8 1067.5L1307.8 967.9L1332.6 967.9L1332.6 591.6L1311.6 591.6L1311.6 524L1332.6 524L1332.6 475.6L1557.7 475.6L1557.7 391L1503.2 391Z"/>
<path class="w" d="M1506.5 233.1L1624.9 233.1L1624.9 152.9L1991.6 152.9L1991.6 387.7L1621.2 387.7L1621.2 677.7L1779.2 677.7L1779.2 852L1794.7 852L1794.7 907L1808 907L1808 964.6L1794.7 964.6L1794.7 1090.6L1780.1 1090.6L1780.1 1201.3L1613.9 1201.3L1613.9 1298.1L1460.8 1298.1L1460.8 1359L1331.1 1359L1331.1 1194.6L1311.1 1194.6L1311.1 1107.4L1335.9 1107.4L1335.9 1064.2L1311.1 1064.2L1311.1 971.2L1335.9 971.2L1335.9 588.3L1314.9 588.3L1314.9 527.3L1335.9 527.3L1335.9 478.9L1561 478.9L1561 387.7L1506.5 387.7Z"/>
<path class="w" d="M1509.8 236.4L1628.2 236.4L1628.2 156.2L1988.3 156.2L1988.3 384.4L1617.9 384.4L1617.9 681L1775.9 681L1775.9 855.3L1791.4 855.3L1791.4 910.3L1804.7 910.3L1804.7 961.3L1791.4 961.3L1791.4 1087.3L1776.8 1087.3L1776.8 1198L1610.6 1198L1610.6 1294.8L1457.5 1294.8L1457.5 1355.7L1334.4 1355.7L1334.4 1191.3L1314.4 1191.3L1314.4 1110.7L1339.2 1110.7L1339.2 1060.9L1314.4 1060.9L1314.4 974.5L1339.2 974.5L1339.2 585L1318.2 585L1318.2 530.6L1339.2 530.6L1339.2 482.2L1564.3 482.2L1564.3 384.4L1509.8 384.4Z"/>
<path class="d" d="M1513.1 239.7L1631.5 239.7L1631.5 159.5L1985 159.5L1985 381.1L1614.6 381.1L1614.6 684.3L1772.6 684.3L1772.6 858.6L1788.1 858.6L1788.1 913.6L1801.4 913.6L1801.4 958L1788.1 958L1788.1 1084L1773.5 1084L1773.5 1194.7L1607.3 1194.7L1607.3 1291.5L1454.2 1291.5L1454.2 1352.4L1337.7 1352.4L1337.7 1188L1317.7 1188L1317.7 1114L1342.5 1114L1342.5 1057.6L1317.7 1057.6L1317.7 977.8L1342.5 977.8L1342.5 581.7L1321.5 581.7L1321.5 533.9L1342.5 533.9L1342.5 485.5L1567.6 485.5L1567.6 381.1L1513.1 381.1Z"/>
<rect class="bg" x="1676.5" y="379.2" width="91.5" height="10.6"/>
<rect class="bg" x="1790.5" y="379.2" width="182.5" height="10.6"/>
<path class="d" d="M1631.6 381.3L1661 381.3L1661 377.5L1685 377.5L1685 381.3L1762 381.3L1762 372.5L1794 372.5L1794 381.3L1961 381.3L1961 373L1985 373"/>
<path class="d" d="M1661 394.5L1661 398.5L1685 398.5L1685 394.5"/>
<path class="d" d="M1762 394.5L1762 403.5L1794 403.5L1794 394.5"/>
<path class="d" d="M1961 394.5L1961 400.5L1989 400.5L1989 394.5"/>
<path class="w" d="M1675.5 384.4L1675.5 391"/>
<path class="w" d="M1769.4 384.4L1769.4 391"/>
<path class="w" d="M1789.4 384.4L1789.4 391"/>
<path class="w" d="M1974.4 384.4L1974.4 391"/>
<path class="w" d="M1779 371L1779 406.3L1966.4 406.3L1966.4 366"/>
<circle class="w" cx="1880.5" cy="406.3" r="9.5"/>
<path class="wt" d="M1871 406.3L1890 406.3"/>
<text class="t" x="1880.5" y="404.2" font-size="6" text-anchor="middle" textLength="10" lengthAdjust="spacingAndGlyphs">407</text>
<text class="t" x="1880.5" y="413.2" font-size="6" text-anchor="middle" textLength="8" lengthAdjust="spacingAndGlyphs">S-1</text>
<path class="d" d="M1614.6 236.4L1614.6 384.4"/>
<path class="w" d="M1618 236.4L1618 384.4"/>
<path class="d" d="M1554.4 485.5L1554.4 650"/>
<path class="w" d="M1557.7 475.6L1557.7 646.5"/>
<path class="w" d="M1561 475.6L1561 646.5"/>
<path class="w" d="M1564.3 475.6L1564.3 646.5"/>
<path class="d" d="M1567.6 475.6L1567.6 650"/>
<path class="d" d="M1342.5 636.6L1554.4 636.6"/>
<path class="w" d="M1332.6 639.9L1564.3 639.9"/>
<path class="w" d="M1332.6 643.2L1564.3 643.2"/>
<path class="w" d="M1332.6 646.5L1564.3 646.5"/>
<path class="d" d="M1342.5 649.8L1554.4 649.8"/>
<path class="w" d="M1564.3 639.9L1617.9 639.9"/>
<path class="w" d="M1564.3 643.2L1617.9 643.2"/>
<path class="gdot" d="M1567 641.5L1617 641.5"/>
<path class="w" d="M1341.8 485.4L1425 544.2"/>
<path class="w" d="M1554.4 485.4L1471.5 544.2"/>
<path class="w" d="M1341.8 636.6L1425 578.3"/>
<path class="w" d="M1554.4 636.6L1471.5 578.3"/>
<path class="w" d="M1631.5 159.6L1782 252.4"/>
<path class="w" d="M1985.2 159.6L1833.2 252.4"/>
<path class="w" d="M1631.5 381.3L1782 286"/>
<path class="w" d="M1985.2 381.3L1833.2 286"/>
<path class="w" d="M1314.9 588.3L1314.9 527.3"/>
<rect class="d" x="1301.7" y="514" width="27.5" height="87.5"/>
<rect class="d" x="1321.3" y="534.2" width="17.8" height="47.6"/>
<path class="w" d="M1339.2 520.5L1349.4 520.5L1349.4 594.6L1339.2 594.6"/>
<path class="w" d="M1339.2 523.8L1346.1 523.8L1346.1 591.3L1339.2 591.3"/>
<path class="w" d="M1339.2 527.1L1342.8 527.1L1342.8 588L1339.2 588"/>
<path class="d" d="M1342 510.3L1359.7 510.3L1359.7 604.7L1342 604.7"/>
<path class="wt" d="M1351 571L1366.5 581.6L1378 581.6"/>
<rect class="w" x="1469.9" y="1301.4" width="58.5" height="54.4"/>
<rect class="wt" x="1471.9" y="1303.6" width="54.5" height="50"/>
<rect class="d" x="1474.5" y="1307" width="49" height="43"/>
<path class="wt" d="M1471.9 1303.6L1526.4 1353.6"/>
<path class="wt" d="M1526.4 1303.6L1471.9 1353.6"/>
<text class="t" x="1497" y="1327.4" font-size="4" text-anchor="middle" transform="rotate(45 1497 1327.4)" textLength="28" lengthAdjust="spacingAndGlyphs">3' CONC PAD</text>
<text class="t" x="1493" y="1331.4" font-size="4" text-anchor="middle" transform="rotate(45 1493 1331.4)" textLength="8" lengthAdjust="spacingAndGlyphs">PAD</text>
<path class="w" d="M1783.4 1190.5L1803.5 1190.5L1803.5 1204.6"/>
<path class="w" d="M1783.4 1194L1800 1194L1800 1201L1783.4 1201"/>
<path class="d" d="M1787 1183.6L1811 1183.6L1811 1208L1787 1208"/>
<rect class="w" x="1839" y="1184.5" width="13.5" height="26"/>
<rect class="w" x="1842.3" y="1189" width="7" height="17.5"/>
<rect class="d" x="1835.5" y="1181" width="20.5" height="33"/>
<path class="wband" d="M1340 749L1771 749"/>
<path class="wl" d="M1340 746.6L1771 746.6"/>
<path class="wl" d="M1340 749L1771 749"/>
<path class="wl" d="M1340 751.4L1771 751.4"/>
<path class="gdot" d="M1346 749L1771 749"/>
<path class="wband" d="M1340 850.4L1771 850.4"/>
<path class="wl" d="M1340 848L1771 848"/>
<path class="wl" d="M1340 850.4L1771 850.4"/>
<path class="wl" d="M1340 852.8L1771 852.8"/>
<path class="gdot" d="M1346 850.4L1771 850.4"/>
<path class="wband" d="M1340 970.8L1786 970.8"/>
<path class="wl" d="M1340 968.4L1786 968.4"/>
<path class="wl" d="M1340 970.8L1786 970.8"/>
<path class="wl" d="M1340 973.2L1786 973.2"/>
<path class="gdot" d="M1346 970.8L1786 970.8"/>
<path class="wband" d="M1340 1105.6L1611 1105.6"/>
<path class="wl" d="M1340 1103.2L1611 1103.2"/>
<path class="wl" d="M1340 1105.6L1611 1105.6"/>
<path class="wl" d="M1340 1108L1611 1108"/>
<path class="gdot" d="M1346 1105.6L1611 1105.6"/>
<path class="wband" d="M1340 1196.4L1611 1196.4"/>
<path class="wl" d="M1340 1194L1611 1194"/>
<path class="wl" d="M1340 1196.4L1611 1196.4"/>
<path class="wl" d="M1340 1198.8L1611 1198.8"/>
<path class="gdot" d="M1346 1196.4L1611 1196.4"/>
<path class="wband" d="M1605 1127.5L1772.5 1127.5"/>
<path class="wl" d="M1605 1125.1L1772.5 1125.1"/>
<path class="wl" d="M1605 1127.5L1772.5 1127.5"/>
<path class="wl" d="M1605 1129.9L1772.5 1129.9"/>
<path class="gdot" d="M1611 1127.5L1772.5 1127.5"/>
<path class="wband" d="M1465 1148.9L1611 1148.9"/>
<path class="wl" d="M1465 1146.5L1611 1146.5"/>
<path class="wl" d="M1465 1148.9L1611 1148.9"/>
<path class="wl" d="M1465 1151.3L1611 1151.3"/>
<path class="gdot" d="M1471 1148.9L1611 1148.9"/>
<path class="wl" d="M1523.3 650L1523.3 850.4"/>
<path class="wl" d="M1527.1 650L1527.1 850.4"/>
<path class="wg" d="M1525.2 650L1525.2 850.4"/>
<path class="gdot" d="M1525.2 655L1525.2 850.4"/>
<path class="wl" d="M1547.1 650L1547.1 850.4"/>
<path class="wl" d="M1550.9 650L1550.9 850.4"/>
<path class="wg" d="M1549 650L1549 850.4"/>
<path class="gdot" d="M1549 655L1549 850.4"/>
<path class="wl" d="M1620.8 684L1620.8 850.4"/>
<path class="wl" d="M1624.6 684L1624.6 850.4"/>
<path class="wg" d="M1622.7 684L1622.7 850.4"/>
<path class="gdot" d="M1622.7 689L1622.7 850.4"/>
<path class="wl" d="M1557 850.4L1557 1105.6"/>
<path class="wl" d="M1560.8 850.4L1560.8 1105.6"/>
<path class="wg" d="M1558.9 850.4L1558.9 1105.6"/>
<path class="gdot" d="M1558.9 855.4L1558.9 1105.6"/>
<path class="wl" d="M1486.7 1105.6L1486.7 1196.4"/>
<path class="wl" d="M1490.5 1105.6L1490.5 1196.4"/>
<path class="wg" d="M1488.6 1105.6L1488.6 1196.4"/>
<path class="gdot" d="M1488.6 1110.6L1488.6 1196.4"/>
<path class="wl" d="M1463.1 1148.9L1463.1 1291"/>
<path class="wl" d="M1466.9 1148.9L1466.9 1291"/>
<path class="wg" d="M1465 1148.9L1465 1291"/>
<path class="gdot" d="M1465 1153.9L1465 1291"/>
<path class="wl" d="M1563.9 1152L1563.9 1291"/>
<path class="wl" d="M1567.7 1152L1567.7 1291"/>
<path class="wg" d="M1565.8 1152L1565.8 1291"/>
<path class="gdot" d="M1565.8 1157L1565.8 1291"/>
<path class="wl" d="M1607 1105.6L1607 1196.4"/>
<path class="wl" d="M1610.8 1105.6L1610.8 1196.4"/>
<path class="wg" d="M1608.9 1105.6L1608.9 1196.4"/>
<path class="gdot" d="M1608.9 1110.6L1608.9 1196.4"/>
<rect class="ds" x="1395.6" y="736" width="26" height="26"/>
<rect class="w" x="1401.4" y="741.8" width="14.4" height="14.4"/>
<rect class="wt" x="1403.8" y="744.2" width="9.6" height="9.6"/>
<rect class="ds" x="1465.3" y="736" width="26" height="26"/>
<rect class="w" x="1471.1" y="741.8" width="14.4" height="14.4"/>
<rect class="wt" x="1473.5" y="744.2" width="9.6" height="9.6"/>
<rect class="ds" x="1536" y="736" width="26" height="26"/>
<rect class="w" x="1541.8" y="741.8" width="14.4" height="14.4"/>
<rect class="wt" x="1544.2" y="744.2" width="9.6" height="9.6"/>
<rect class="ds" x="1609.7" y="736" width="26" height="26"/>
<rect class="w" x="1615.5" y="741.8" width="14.4" height="14.4"/>
<rect class="wt" x="1617.9" y="744.2" width="9.6" height="9.6"/>
<rect class="ds" x="1684.1" y="736" width="26" height="26"/>
<rect class="w" x="1689.9" y="741.8" width="14.4" height="14.4"/>
<rect class="wt" x="1692.3" y="744.2" width="9.6" height="9.6"/>
<rect class="ds" x="1395.6" y="837.4" width="26" height="26"/>
<rect class="w" x="1401.4" y="843.2" width="14.4" height="14.4"/>
<rect class="wt" x="1403.8" y="845.6" width="9.6" height="9.6"/>
<rect class="ds" x="1465.3" y="837.4" width="26" height="26"/>
<rect class="w" x="1471.1" y="843.2" width="14.4" height="14.4"/>
<rect class="wt" x="1473.5" y="845.6" width="9.6" height="9.6"/>
<rect class="ds" x="1510.7" y="837.4" width="26" height="26"/>
<rect class="w" x="1516.5" y="843.2" width="14.4" height="14.4"/>
<rect class="wt" x="1518.9" y="845.6" width="9.6" height="9.6"/>
<rect class="ds" x="1542.9" y="837.4" width="26" height="26"/>
<rect class="w" x="1548.7" y="843.2" width="14.4" height="14.4"/>
<rect class="wt" x="1551.1" y="845.6" width="9.6" height="9.6"/>
<rect class="ds" x="1609.7" y="837.4" width="26" height="26"/>
<rect class="w" x="1615.5" y="843.2" width="14.4" height="14.4"/>
<rect class="wt" x="1617.9" y="845.6" width="9.6" height="9.6"/>
<rect class="ds" x="1658.6" y="837.4" width="26" height="26"/>
<rect class="w" x="1664.4" y="843.2" width="14.4" height="14.4"/>
<rect class="wt" x="1666.8" y="845.6" width="9.6" height="9.6"/>
<rect class="ds" x="1708.4" y="837.4" width="26" height="26"/>
<rect class="w" x="1714.2" y="843.2" width="14.4" height="14.4"/>
<rect class="wt" x="1716.6" y="845.6" width="9.6" height="9.6"/>
<rect class="ds" x="1391.2" y="957.8" width="26" height="26"/>
<rect class="w" x="1397" y="963.6" width="14.4" height="14.4"/>
<rect class="wt" x="1399.4" y="966" width="9.6" height="9.6"/>
<rect class="ds" x="1457.1" y="957.8" width="26" height="26"/>
<rect class="w" x="1462.9" y="963.6" width="14.4" height="14.4"/>
<rect class="wt" x="1465.3" y="966" width="9.6" height="9.6"/>
<rect class="ds" x="1522.4" y="957.8" width="26" height="26"/>
<rect class="w" x="1528.2" y="963.6" width="14.4" height="14.4"/>
<rect class="wt" x="1530.6" y="966" width="9.6" height="9.6"/>
<rect class="wf" x="1532" y="967.4" width="6.8" height="6.8"/>
<rect class="ds" x="1545.9" y="957.8" width="26" height="26"/>
<rect class="w" x="1551.7" y="963.6" width="14.4" height="14.4"/>
<rect class="wt" x="1554.1" y="966" width="9.6" height="9.6"/>
<rect class="ds" x="1600.6" y="957.8" width="26" height="26"/>
<rect class="w" x="1606.4" y="963.6" width="14.4" height="14.4"/>
<rect class="wt" x="1608.8" y="966" width="9.6" height="9.6"/>
<rect class="ds" x="1654.8" y="957.8" width="26" height="26"/>
<rect class="w" x="1660.6" y="963.6" width="14.4" height="14.4"/>
<rect class="wt" x="1663" y="966" width="9.6" height="9.6"/>
<rect class="wf" x="1664.4" y="967.4" width="6.8" height="6.8"/>
<rect class="ds" x="1714.3" y="957.8" width="26" height="26"/>
<rect class="w" x="1720.1" y="963.6" width="14.4" height="14.4"/>
<rect class="wt" x="1722.5" y="966" width="9.6" height="9.6"/>
<rect class="ds" x="1389.1" y="1092.6" width="26" height="26"/>
<rect class="w" x="1394.9" y="1098.4" width="14.4" height="14.4"/>
<rect class="wt" x="1397.3" y="1100.8" width="9.6" height="9.6"/>
<rect class="ds" x="1452.1" y="1092.6" width="26" height="26"/>
<rect class="w" x="1457.9" y="1098.4" width="14.4" height="14.4"/>
<rect class="wt" x="1460.3" y="1100.8" width="9.6" height="9.6"/>
<rect class="ds" x="1499" y="1092.6" width="26" height="26"/>
<rect class="w" x="1504.8" y="1098.4" width="14.4" height="14.4"/>
<rect class="wt" x="1507.2" y="1100.8" width="9.6" height="9.6"/>
<rect class="ds" x="1545.9" y="1092.6" width="26" height="26"/>
<rect class="w" x="1551.7" y="1098.4" width="14.4" height="14.4"/>
<rect class="wt" x="1554.1" y="1100.8" width="9.6" height="9.6"/>
<rect class="ds" x="1596.2" y="1092.6" width="26" height="26"/>
<rect class="w" x="1602" y="1098.4" width="14.4" height="14.4"/>
<rect class="wt" x="1604.4" y="1100.8" width="9.6" height="9.6"/>
<rect class="ds" x="1389.3" y="1183.4" width="26" height="26"/>
<rect class="w" x="1395.1" y="1189.2" width="14.4" height="14.4"/>
<rect class="wt" x="1397.5" y="1191.6" width="9.6" height="9.6"/>
<rect class="ds" x="1452" y="1183.4" width="26" height="26"/>
<rect class="w" x="1457.8" y="1189.2" width="14.4" height="14.4"/>
<rect class="wt" x="1460.2" y="1191.6" width="9.6" height="9.6"/>
<rect class="ds" x="1523.6" y="1183.4" width="26" height="26"/>
<rect class="w" x="1529.4" y="1189.2" width="14.4" height="14.4"/>
<rect class="wt" x="1531.8" y="1191.6" width="9.6" height="9.6"/>
<rect class="ds" x="1650.7" y="1114.5" width="26" height="26"/>
<rect class="w" x="1656.5" y="1120.3" width="14.4" height="14.4"/>
<rect class="wt" x="1658.9" y="1122.7" width="9.6" height="9.6"/>
<rect class="wf" x="1660.3" y="1124.1" width="6.8" height="6.8"/>
<rect class="ds" x="1729.8" y="1114.5" width="26" height="26"/>
<rect class="w" x="1735.6" y="1120.3" width="14.4" height="14.4"/>
<rect class="wt" x="1738" y="1122.7" width="9.6" height="9.6"/>
<rect class="wf" x="1739.4" y="1124.1" width="6.8" height="6.8"/>
<rect class="ds" x="1452.1" y="1135.9" width="26" height="26"/>
<rect class="w" x="1457.9" y="1141.7" width="14.4" height="14.4"/>
<rect class="wt" x="1460.3" y="1144.1" width="9.6" height="9.6"/>
<rect class="ds" x="1523.9" y="1135.9" width="26" height="26"/>
<rect class="w" x="1529.7" y="1141.7" width="14.4" height="14.4"/>
<rect class="wt" x="1532.1" y="1144.1" width="9.6" height="9.6"/>
<rect class="ds" x="1596.2" y="1135.9" width="26" height="26"/>
<rect class="w" x="1602" y="1141.7" width="14.4" height="14.4"/>
<rect class="wt" x="1604.4" y="1144.1" width="9.6" height="9.6"/>
<rect class="ds" x="1596.2" y="1114.5" width="26" height="26"/>
<rect class="w" x="1602" y="1120.3" width="14.4" height="14.4"/>
<rect class="wt" x="1604.4" y="1122.7" width="9.6" height="9.6"/>
<rect class="w" x="1338.9" y="742" width="10" height="14"/>
<path class="ds" d="M1341.9 736L1354.9 736L1354.9 762L1341.9 762"/>
<rect class="w" x="1338.9" y="843.4" width="10" height="14"/>
<path class="ds" d="M1341.9 837.4L1354.9 837.4L1354.9 863.4L1341.9 863.4"/>
<rect class="w" x="1335.7" y="963.8" width="10" height="14"/>
<path class="ds" d="M1338.7 957.8L1351.7 957.8L1351.7 983.8L1338.7 983.8"/>
<rect class="w" x="1335.7" y="1098.6" width="10" height="14"/>
<path class="ds" d="M1338.7 1092.6L1351.7 1092.6L1351.7 1118.6L1338.7 1118.6"/>
<rect class="w" x="1335" y="1189.4" width="10" height="14"/>
<path class="ds" d="M1338 1183.4L1351 1183.4L1351 1209.4L1338 1209.4"/>
<rect class="w" x="1762.4" y="742" width="10" height="14"/>
<path class="ds" d="M1769.4 736L1756.4 736L1756.4 762L1769.4 762"/>
<rect class="w" x="1762.4" y="843.4" width="10" height="14"/>
<path class="ds" d="M1769.4 837.4L1756.4 837.4L1756.4 863.4L1769.4 863.4"/>
<rect class="w" x="1778" y="963.8" width="10" height="14"/>
<path class="ds" d="M1785 957.8L1772 957.8L1772 983.8L1785 983.8"/>
<rect class="w" x="1767" y="1120.5" width="10" height="14"/>
<path class="ds" d="M1774 1114.5L1761 1114.5L1761 1140.5L1774 1140.5"/>
<rect class="w" x="1603.5" y="1189.4" width="10" height="14"/>
<path class="ds" d="M1610.5 1183.4L1597.5 1183.4L1597.5 1209.4L1610.5 1209.4"/>
<rect class="w" x="1542" y="648" width="14.5" height="8"/>
<path class="ds" d="M1536.5 650L1536.5 659.5L1561.5 659.5L1561.5 650"/>
<rect class="ds" x="1609.7" y="701.5" width="26" height="26"/>
<rect class="w" x="1616.2" y="708" width="13" height="13"/>
<rect class="wh" x="1618.2" y="710" width="9" height="9"/>
<rect class="ds" x="1545.9" y="896.3" width="26" height="26"/>
<rect class="w" x="1552.4" y="902.8" width="13" height="13"/>
<rect class="wh" x="1554.4" y="904.8" width="9" height="9"/>
<rect class="ds" x="1545.9" y="1061.8" width="26" height="26"/>
<rect class="w" x="1552.4" y="1068.3" width="13" height="13"/>
<rect class="wh" x="1554.4" y="1070.3" width="9" height="9"/>
<path class="w" d="M1461 659.8L1461 735.8"/>
<rect class="wf2" x="1453" y="686" width="7.5" height="24.5"/>
<rect class="wf2" x="1458.5" y="683.5" width="7.5" height="28.5"/>
<path class="w" d="M1677.2 674.4L1677.2 750.4"/>
<rect class="wf2" x="1669.2" y="700.6" width="7.5" height="24.5"/>
<rect class="wf2" x="1674.8" y="698.1" width="7.5" height="28.5"/>
<path class="w" d="M1459 760.9L1459 836.9"/>
<rect class="wf2" x="1451" y="787.1" width="7.5" height="24.5"/>
<rect class="wf2" x="1456.5" y="784.6" width="7.5" height="28.5"/>
<path class="w" d="M1677.2 755L1677.2 831"/>
<rect class="wf2" x="1669.2" y="781.2" width="7.5" height="24.5"/>
<rect class="wf2" x="1674.8" y="778.8" width="7.5" height="28.5"/>
<path class="w" d="M1380.5 870.7L1380.5 946.7"/>
<rect class="wf2" x="1372.5" y="897" width="7.5" height="24.5"/>
<rect class="wf2" x="1378" y="894.5" width="7.5" height="28.5"/>
<path class="w" d="M1677.2 867.8L1677.2 943.8"/>
<rect class="wf2" x="1669.2" y="894" width="7.5" height="24.5"/>
<rect class="wf2" x="1674.8" y="891.5" width="7.5" height="28.5"/>
<path class="w" d="M1378.4 1001.7L1378.4 1077.7"/>
<rect class="wf2" x="1370.5" y="1028" width="7.5" height="24.5"/>
<rect class="wf2" x="1376" y="1025.5" width="7.5" height="28.5"/>
<path class="w" d="M1377.8 1113L1377.8 1189"/>
<rect class="wf2" x="1369.8" y="1139.2" width="7.5" height="24.5"/>
<rect class="wf2" x="1375.3" y="1136.8" width="7.5" height="28.5"/>
<path class="w" d="M1506.7 1117.4L1506.7 1193.4"/>
<rect class="wf2" x="1498.8" y="1143.7" width="7.5" height="24.5"/>
<rect class="wf2" x="1504.2" y="1141.2" width="7.5" height="28.5"/>
<path class="w" d="M1689.5 1123.2L1689.5 1199.2"/>
<rect class="wf2" x="1681.5" y="1149.5" width="7.5" height="24.5"/>
<rect class="wf2" x="1687" y="1147" width="7.5" height="28.5"/>
<path class="w" d="M1389 1250.4L1389 1326.4"/>
<rect class="wf2" x="1381" y="1276.7" width="7.5" height="24.5"/>
<rect class="wf2" x="1386.5" y="1274.2" width="7.5" height="28.5"/>
<path class="w" d="M1553.1 521.9L1629.1 521.9"/>
<rect class="wf2" x="1576.8" y="513.6" width="28.5" height="10.5"/>
<rect class="wf2" x="1580.8" y="517.6" width="20.5" height="10.5"/>
<path class="w" d="M1534.4 287L1618.4 287"/>
<rect class="wf2" x="1562.2" y="278.8" width="28.5" height="10.5"/>
<rect class="wf2" x="1566.2" y="282.8" width="20.5" height="10.5"/>
<path class="w" d="M1603.5 992L1603.5 1078"/>
<path class="w" d="M1693.5 982L1693.5 1070"/>
<text class="t" x="1608" y="1034.2" font-size="6" text-anchor="middle" transform="rotate(-90 1608 1034.2)" textLength="24" lengthAdjust="spacingAndGlyphs">2x10 F.J.</text>
<text class="t" x="1613" y="1034.2" font-size="6" text-anchor="middle" transform="rotate(-90 1613 1034.2)" textLength="24" lengthAdjust="spacingAndGlyphs">@ 12" O.C.</text>
<text class="t" x="1688" y="1024.2" font-size="6" text-anchor="middle" transform="rotate(-90 1688 1024.2)" textLength="24" lengthAdjust="spacingAndGlyphs">2x10 F.J.</text>
<text class="t" x="1697.5" y="1024.2" font-size="6" text-anchor="middle" transform="rotate(-90 1697.5 1024.2)" textLength="24" lengthAdjust="spacingAndGlyphs">@ 12" O.C.</text>
<path class="wl" d="M1548.1 236L1548.1 381.1"/>
<path class="wl" d="M1551.9 236L1551.9 381.1"/>
<path class="wg" d="M1550 236L1550 381.1"/>
<path class="gdot" d="M1550 241L1550 381.1"/>
<rect class="ds" x="1537" y="297.5" width="26" height="26"/>
<rect class="w" x="1543.7" y="304.2" width="12.6" height="12.6"/>
<rect class="wt" x="1546.1" y="306.6" width="7.8" height="7.8"/>
<path class="ds" d="M1537 236.4L1537 244L1563 244L1563 236.4"/>
<rect class="w" x="1543.5" y="236" width="13" height="6.5"/>
<path class="ds" d="M1537 381L1537 371.5L1563 371.5L1563 381"/>
<rect class="w" x="1543.5" y="374.5" width="13" height="6.5"/>
<path class="w" d="M1517.5 287.2L1610 287.2"/>
<path class="w" d="M1529.6 233.5L1529.6 391"/>
<path class="wt" d="M1527.8 235.3L1531.4 231.7"/>
<path class="wt" d="M1527.8 258.3L1531.4 254.7"/>
<path class="wt" d="M1527.8 289L1531.4 285.4"/>
<path class="wt" d="M1527.8 332.3L1531.4 328.7"/>
<path class="wt" d="M1527.8 392.8L1531.4 389.2"/>
<text class="t" x="1526.4" y="274.2" font-size="6" text-anchor="middle" transform="rotate(-90 1526.4 274.2)" textLength="11" lengthAdjust="spacingAndGlyphs">8'-0"</text>
<text class="t" x="1526.4" y="356.2" font-size="6" text-anchor="middle" transform="rotate(-90 1526.4 356.2)" textLength="11" lengthAdjust="spacingAndGlyphs">8'-0"</text>
<text class="t" x="1532.5" y="312.2" font-size="6" text-anchor="middle" transform="rotate(-90 1532.5 312.2)">4'</text>
<path class="w" d="M1503.2 256.5L1621 256.5"/>
<text class="t" x="1562" y="255.2" font-size="6" text-anchor="middle" textLength="12" lengthAdjust="spacingAndGlyphs">12'-0"</text>
<path class="w" d="M1503.2 330.5L1550 330.5"/>
<text class="t" x="1520" y="329.7" font-size="6" text-anchor="middle" textLength="10" lengthAdjust="spacingAndGlyphs">4'-8"</text>
<path class="w" d="M1503.2 412L1557.7 412"/>
<path class="wt" d="M1501.4 413.8L1505 410.2"/>
<path class="wt" d="M1555.9 413.8L1559.5 410.2"/>
<text class="t" x="1530.5" y="410.6" font-size="6" text-anchor="middle" textLength="13" lengthAdjust="spacingAndGlyphs">5'-4"</text>
<path class="w" d="M1503.2 394L1503.2 417"/>
<path class="w" d="M1557.7 400L1557.7 417"/>
<path class="w" d="M1598 279.5L1634 279.5"/>
<circle class="w" cx="1642" cy="279.5" r="7.8"/>
<path class="wt" d="M1634.2 279.5L1649.8 279.5"/>
<text class="t" x="1642" y="277.6" font-size="3.6" text-anchor="middle">D</text>
<text class="t" x="1642" y="284.1" font-size="3.4" text-anchor="middle" textLength="9" lengthAdjust="spacingAndGlyphs">2-9</text>
<path class="w" d="M1655.3 229.8L1655.3 391"/>
<path class="wt" d="M1653.5 231.6L1657.1 228"/>
<path class="wt" d="M1653.5 392.8L1657.1 389.2"/>
<text class="t" x="1651.7" y="312.6" font-size="6" text-anchor="middle" transform="rotate(-90 1651.7 312.6)" textLength="15.6" lengthAdjust="spacingAndGlyphs">16'-8"</text>
<path class="w" d="M1632 229.8L1663 229.8"/>
<path class="w" d="M1312.2 78.1L1994.9 78.1"/>
<path class="wt" d="M1310.4 79.9L1314 76.3"/>
<path class="wt" d="M1993.1 79.9L1996.7 76.3"/>
<text class="t" x="1652.6" y="77.2" font-size="6.2" text-anchor="middle" textLength="13" lengthAdjust="spacingAndGlyphs">67'-8"</text>
<path class="w" d="M1312.2 108.8L1994.9 108.8"/>
<path class="wt" d="M1310.4 110.6L1314 107"/>
<path class="wt" d="M1330 110.6L1333.6 107"/>
<path class="wt" d="M1501.4 110.6L1505 107"/>
<path class="wt" d="M1619.2 110.6L1622.8 107"/>
<path class="wt" d="M1993.1 110.6L1996.7 107"/>
<text class="t" x="1322" y="107.4" font-size="6" text-anchor="middle" textLength="13" lengthAdjust="spacingAndGlyphs">2'-0"</text>
<text class="t" x="1417.5" y="107.4" font-size="6" text-anchor="middle" textLength="15.6" lengthAdjust="spacingAndGlyphs">17'-8"</text>
<text class="t" x="1562.1" y="107.4" font-size="6" text-anchor="middle" textLength="15.6" lengthAdjust="spacingAndGlyphs">11'-8"</text>
<text class="t" x="1808" y="107.4" font-size="6" text-anchor="middle" textLength="15.6" lengthAdjust="spacingAndGlyphs">37'-8"</text>
<path class="w" d="M1312.2 72L1312.2 524"/>
<path class="w" d="M1331.8 101.5L1331.8 472"/>
<path class="w" d="M1503.2 101.5L1503.2 226"/>
<path class="w" d="M1621 101.5L1621 146"/>
<path class="w" d="M1994.9 72L1994.9 1470"/>
<path class="w" d="M1238.1 149.9L1238.1 1362.3"/>
<path class="wt" d="M1236.3 151.7L1239.9 148.1"/>
<path class="wt" d="M1236.3 1364.1L1239.9 1360.5"/>
<text class="t" x="1235" y="761.2" font-size="6.2" text-anchor="middle" transform="rotate(-90 1235 761.2)" textLength="14" lengthAdjust="spacingAndGlyphs">118'-3"</text>
<path class="w" d="M1268.3 149.9L1268.3 1362.3"/>
<path class="wt" d="M1266.5 151.7L1270.1 148.1"/>
<path class="wt" d="M1266.5 231.6L1270.1 228"/>
<path class="wt" d="M1266.5 392.8L1270.1 389.2"/>
<path class="wt" d="M1266.5 477.4L1270.1 473.8"/>
<path class="wt" d="M1266.5 525.8L1270.1 522.2"/>
<path class="wt" d="M1266.5 593.4L1270.1 589.8"/>
<path class="wt" d="M1266.5 642.8L1270.1 639.2"/>
<path class="wt" d="M1266.5 969.7L1270.1 966.1"/>
<path class="wt" d="M1266.5 1069.3L1270.1 1065.7"/>
<path class="wt" d="M1266.5 1105.9L1270.1 1102.3"/>
<path class="wt" d="M1266.5 1199.7L1270.1 1196.1"/>
<path class="wt" d="M1266.5 1364.1L1270.1 1360.5"/>
<text class="t" x="1264.7" y="192" font-size="6" text-anchor="middle" transform="rotate(-90 1264.7 192)" textLength="13" lengthAdjust="spacingAndGlyphs">8'-8"</text>
<text class="t" x="1264.7" y="312.6" font-size="6" text-anchor="middle" transform="rotate(-90 1264.7 312.6)" textLength="15.6" lengthAdjust="spacingAndGlyphs">16'-8"</text>
<text class="t" x="1264.7" y="435.5" font-size="6" text-anchor="middle" transform="rotate(-90 1264.7 435.5)" textLength="13" lengthAdjust="spacingAndGlyphs">8'-4"</text>
<text class="t" x="1264.7" y="502" font-size="6" text-anchor="middle" transform="rotate(-90 1264.7 502)" textLength="13" lengthAdjust="spacingAndGlyphs">5'-2"</text>
<text class="t" x="1264.7" y="560" font-size="6" text-anchor="middle" transform="rotate(-90 1264.7 560)" textLength="13" lengthAdjust="spacingAndGlyphs">6'-4"</text>
<text class="t" x="1264.7" y="618.5" font-size="6" text-anchor="middle" transform="rotate(-90 1264.7 618.5)" textLength="15.6" lengthAdjust="spacingAndGlyphs">4'-10"</text>
<text class="t" x="1264.7" y="806.6" font-size="6" text-anchor="middle" transform="rotate(-90 1264.7 806.6)" textLength="15.6" lengthAdjust="spacingAndGlyphs">32'-8"</text>
<text class="t" x="1264.7" y="1019.9" font-size="6" text-anchor="middle" transform="rotate(-90 1264.7 1019.9)" textLength="13" lengthAdjust="spacingAndGlyphs">9'-8"</text>
<text class="t" x="1264.7" y="1088" font-size="6" text-anchor="middle" transform="rotate(-90 1264.7 1088)" textLength="13" lengthAdjust="spacingAndGlyphs">3'-8"</text>
<text class="t" x="1264.7" y="1153.2" font-size="6" text-anchor="middle" transform="rotate(-90 1264.7 1153.2)" textLength="13" lengthAdjust="spacingAndGlyphs">9'-4"</text>
<text class="t" x="1264.7" y="1282.3" font-size="6" text-anchor="middle" transform="rotate(-90 1264.7 1282.3)" textLength="15.6" lengthAdjust="spacingAndGlyphs">16'-3"</text>
<path class="w" d="M1230.8 149.9L1616 149.9"/>
<path class="w" d="M1261.5 229.8L1499 229.8"/>
<path class="w" d="M1261.5 391L1499 391"/>
<path class="w" d="M1261.5 475.6L1328.5 475.6"/>
<path class="w" d="M1261.5 524L1300 524"/>
<path class="w" d="M1261.5 591.6L1300 591.6"/>
<path class="w" d="M1261.5 641L1328.5 641"/>
<path class="w" d="M1261.5 967.9L1303.5 967.9"/>
<path class="w" d="M1261.5 1067.5L1303.5 1067.5"/>
<path class="w" d="M1261.5 1104.1L1303.5 1104.1"/>
<path class="w" d="M1261.5 1197.9L1303.5 1197.9"/>
<path class="w" d="M1230.8 1362.3L2102 1362.3"/>
<path class="w" d="M2035.4 149.9L2035.4 391"/>
<path class="wt" d="M2033.6 151.7L2037.2 148.1"/>
<path class="wt" d="M2033.6 342.7L2037.2 339.1"/>
<path class="wt" d="M2033.6 372.8L2037.2 369.2"/>
<path class="wt" d="M2033.6 392.8L2037.2 389.2"/>
<text class="t" x="2031.8" y="247.6" font-size="6" text-anchor="middle" transform="rotate(-90 2031.8 247.6)" textLength="15.6" lengthAdjust="spacingAndGlyphs">19'-8"</text>
<text class="t" x="2031.8" y="358.1" font-size="6" text-anchor="middle" transform="rotate(-90 2031.8 358.1)" textLength="13" lengthAdjust="spacingAndGlyphs">3'-0"</text>
<text class="t" x="2031.8" y="383.2" font-size="6" text-anchor="middle" transform="rotate(-90 2031.8 383.2)" textLength="13" lengthAdjust="spacingAndGlyphs">2'-0"</text>
<path class="w" d="M2065.2 149.9L2065.2 1362.3"/>
<path class="wt" d="M2063.4 151.7L2067 148.1"/>
<path class="wt" d="M2063.4 392.8L2067 389.2"/>
<path class="wt" d="M2063.4 675.6L2067 672"/>
<path class="wt" d="M2063.4 850.5L2067 846.9"/>
<path class="wt" d="M2063.4 905.5L2067 901.9"/>
<path class="wt" d="M2063.4 969.7L2067 966.1"/>
<path class="wt" d="M2063.4 1095.7L2067 1092.1"/>
<path class="wt" d="M2063.4 1209L2067 1205.4"/>
<path class="wt" d="M2063.4 1303.6L2067 1300"/>
<path class="wt" d="M2063.4 1364.1L2067 1360.5"/>
<text class="t" x="2061.6" y="272.6" font-size="6" text-anchor="middle" transform="rotate(-90 2061.6 272.6)" textLength="15.6" lengthAdjust="spacingAndGlyphs">24'-8"</text>
<text class="t" x="2061.6" y="534.6" font-size="6" text-anchor="middle" transform="rotate(-90 2061.6 534.6)" textLength="15.6" lengthAdjust="spacingAndGlyphs">28'-8"</text>
<text class="t" x="2061.6" y="763.4" font-size="6" text-anchor="middle" transform="rotate(-90 2061.6 763.4)" textLength="15.6" lengthAdjust="spacingAndGlyphs">17'-4"</text>
<text class="t" x="2061.6" y="878.4" font-size="6" text-anchor="middle" transform="rotate(-90 2061.6 878.4)" textLength="13" lengthAdjust="spacingAndGlyphs">5'-6"</text>
<text class="t" x="2061.6" y="938" font-size="6" text-anchor="middle" transform="rotate(-90 2061.6 938)" textLength="13" lengthAdjust="spacingAndGlyphs">6'-4"</text>
<text class="t" x="2061.6" y="1033.1" font-size="6" text-anchor="middle" transform="rotate(-90 2061.6 1033.1)" textLength="15.6" lengthAdjust="spacingAndGlyphs">12'-6"</text>
<text class="t" x="2061.6" y="1152.7" font-size="6" text-anchor="middle" transform="rotate(-90 2061.6 1152.7)" textLength="15.6" lengthAdjust="spacingAndGlyphs">11'-3"</text>
<text class="t" x="2061.6" y="1256.7" font-size="6" text-anchor="middle" transform="rotate(-90 2061.6 1256.7)" textLength="13" lengthAdjust="spacingAndGlyphs">9'-4"</text>
<text class="t" x="2061.6" y="1334.2" font-size="6" text-anchor="middle" transform="rotate(-90 2061.6 1334.2)" textLength="13" lengthAdjust="spacingAndGlyphs">6'-0"</text>
<path class="w" d="M2095.4 149.9L2095.4 1362.3"/>
<path class="wt" d="M2093.6 151.7L2097.2 148.1"/>
<path class="wt" d="M2093.6 1364.1L2097.2 1360.5"/>
<text class="t" x="2091.8" y="758.3" font-size="6" text-anchor="middle" transform="rotate(-90 2091.8 758.3)" textLength="18.2" lengthAdjust="spacingAndGlyphs">118'-3"</text>
<path class="w" d="M1998.7 149.9L2101.3 149.9"/>
<path class="w" d="M1998.7 340.9L2041 340.9"/>
<path class="w" d="M1998.7 371L2041 371"/>
<path class="w" d="M1998.7 391L2072 391"/>
<path class="w" d="M1786 673.8L2072 673.8"/>
<path class="w" d="M1801 848.7L2072 848.7"/>
<path class="w" d="M1814.5 903.7L2072 903.7"/>
<path class="w" d="M1814.5 967.9L2072 967.9"/>
<path class="w" d="M1801 1093.9L2072 1093.9"/>
<path class="w" d="M1858 1207.2L2072 1207.2"/>
<path class="w" d="M1621 1301.8L2072 1301.8"/>
<path class="w" d="M1624.6 425.2L1994.9 425.2"/>
<path class="wt" d="M1622.8 427L1626.4 423.4"/>
<path class="wt" d="M1673.2 427L1676.8 423.4"/>
<path class="wt" d="M1767.6 427L1771.2 423.4"/>
<path class="wt" d="M1787.5 427L1791.1 423.4"/>
<path class="wt" d="M1972.6 427L1976.2 423.4"/>
<path class="wt" d="M1993.1 427L1996.7 423.4"/>
<text class="t" x="1649.8" y="423.8" font-size="6" text-anchor="middle" textLength="13" lengthAdjust="spacingAndGlyphs">5'-0"</text>
<text class="t" x="1722.2" y="423.8" font-size="6" text-anchor="middle" textLength="13" lengthAdjust="spacingAndGlyphs">9'-4"</text>
<text class="t" x="1779.3" y="423.8" font-size="6" text-anchor="middle" textLength="13" lengthAdjust="spacingAndGlyphs">2'-0"</text>
<text class="t" x="1881.8" y="423.8" font-size="6" text-anchor="middle" textLength="15.6" lengthAdjust="spacingAndGlyphs">18'-4"</text>
<text class="t" x="1984.7" y="423.8" font-size="6" text-anchor="middle" textLength="13" lengthAdjust="spacingAndGlyphs">2'-0"</text>
<path class="w" d="M1675 398L1675 431.5"/>
<path class="w" d="M1769.4 398L1769.4 431.5"/>
<path class="w" d="M1789.3 398L1789.3 431.5"/>
<path class="w" d="M1974.4 398L1974.4 431.5"/>
<path class="w" d="M1624.6 448.7L1994.9 448.7"/>
<path class="wt" d="M1622.8 450.5L1626.4 446.9"/>
<path class="wt" d="M1993.1 450.5L1996.7 446.9"/>
<text class="t" x="1809.8" y="447.3" font-size="6" text-anchor="middle" textLength="15.6" lengthAdjust="spacingAndGlyphs">36'-8"</text>
<path class="w" d="M1309.2 1432.9L1994.9 1432.9"/>
<path class="wt" d="M1307.4 1434.7L1311 1431.1"/>
<path class="wt" d="M1326 1434.7L1329.6 1431.1"/>
<path class="wt" d="M1468.9 1434.7L1472.5 1431.1"/>
<path class="wt" d="M1529.7 1434.7L1533.3 1431.1"/>
<path class="wt" d="M1615.4 1434.7L1619 1431.1"/>
<path class="wt" d="M1781.7 1434.7L1785.3 1431.1"/>
<path class="wt" d="M1850.6 1434.7L1854.2 1431.1"/>
<path class="wt" d="M1993.1 1434.7L1996.7 1431.1"/>
<text class="t" x="1318.5" y="1431.5" font-size="6" text-anchor="middle" textLength="13" lengthAdjust="spacingAndGlyphs">1'-8"</text>
<text class="t" x="1399.2" y="1431.5" font-size="6" text-anchor="middle" textLength="15.6" lengthAdjust="spacingAndGlyphs">14'-2"</text>
<text class="t" x="1501.1" y="1431.5" font-size="6" text-anchor="middle" textLength="13" lengthAdjust="spacingAndGlyphs">6'-0"</text>
<text class="t" x="1574.3" y="1431.5" font-size="6" text-anchor="middle" textLength="13" lengthAdjust="spacingAndGlyphs">8'-6"</text>
<text class="t" x="1700.3" y="1431.5" font-size="6" text-anchor="middle" textLength="15.6" lengthAdjust="spacingAndGlyphs">16'-6"</text>
<text class="t" x="1818" y="1431.5" font-size="6" text-anchor="middle" textLength="15.6" lengthAdjust="spacingAndGlyphs">6'-10"</text>
<text class="t" x="1923.7" y="1431.5" font-size="6" text-anchor="middle" textLength="15.6" lengthAdjust="spacingAndGlyphs">14'-1"</text>
<path class="w" d="M1309.2 1462.8L1994.9 1462.8"/>
<path class="wt" d="M1307.4 1464.6L1311 1461"/>
<path class="wt" d="M1993.1 1464.6L1996.7 1461"/>
<text class="t" x="1651" y="1461.8" font-size="6.2" text-anchor="middle" textLength="14" lengthAdjust="spacingAndGlyphs">68'-0"</text>
<path class="w" d="M1783.5 1402.2L1852.4 1402.2"/>
<path class="wt" d="M1781.7 1404L1785.3 1400.4"/>
<path class="wt" d="M1806.8 1404L1810.4 1400.4"/>
<path class="wt" d="M1836.9 1404L1840.5 1400.4"/>
<path class="wt" d="M1850.6 1404L1854.2 1400.4"/>
<text class="t" x="1796" y="1400.8" font-size="6" text-anchor="middle" textLength="13" lengthAdjust="spacingAndGlyphs">2'-6"</text>
<text class="t" x="1823.7" y="1400.8" font-size="6" text-anchor="middle" textLength="13" lengthAdjust="spacingAndGlyphs">3'-0"</text>
<text class="t" x="1845.6" y="1400.8" font-size="6" text-anchor="middle" textLength="13" lengthAdjust="spacingAndGlyphs">1'-4"</text>
<path class="w" d="M1309.2 1202L1309.2 1470"/>
<path class="w" d="M1327.8 1366.5L1327.8 1440"/>
<path class="w" d="M1470.7 1366.5L1470.7 1440"/>
<path class="w" d="M1531.5 1366.5L1531.5 1440"/>
<path class="w" d="M1617.2 1305L1617.2 1440"/>
<path class="w" d="M1783.5 1211L1783.5 1440"/>
<path class="w" d="M1852.4 1214.5L1852.4 1440"/>
<path class="w" d="M1808.6 1211L1808.6 1409"/>
<path class="w" d="M1838.7 1214.5L1838.7 1409"/>
<path class="w" d="M1870.5 1184.5L1870.5 1207.2"/>
<path class="wt" d="M1868.7 1186.3L1872.3 1182.7"/>
<path class="wt" d="M1868.7 1209L1872.3 1205.4"/>
<text class="t" x="1866.9" y="1198" font-size="6" text-anchor="middle" transform="rotate(-90 1866.9 1198)" textLength="13" lengthAdjust="spacingAndGlyphs">2'-6"</text>
<path class="w" d="M1860 1184.5L1878 1184.5"/>
<path class="w" d="M1432.6 641L1432.6 1362.3"/>
<path class="wt" d="M1430.8 642.8L1434.4 639.2"/>
<path class="wt" d="M1430.8 750.8L1434.4 747.2"/>
<path class="wt" d="M1430.8 852.2L1434.4 848.6"/>
<path class="wt" d="M1430.8 972.6L1434.4 969"/>
<path class="wt" d="M1430.8 1107.4L1434.4 1103.8"/>
<path class="wt" d="M1430.8 1198.2L1434.4 1194.6"/>
<path class="wt" d="M1430.8 1364.1L1434.4 1360.5"/>
<text class="t" x="1429" y="697.2" font-size="6" text-anchor="middle" transform="rotate(-90 1429 697.2)" textLength="15.6" lengthAdjust="spacingAndGlyphs">10'-4"</text>
<text class="t" x="1429" y="801.9" font-size="6" text-anchor="middle" transform="rotate(-90 1429 801.9)" textLength="15.6" lengthAdjust="spacingAndGlyphs">10'-1"</text>
<text class="t" x="1429" y="912.8" font-size="6" text-anchor="middle" transform="rotate(-90 1429 912.8)" textLength="15.6" lengthAdjust="spacingAndGlyphs">12'-0"</text>
<text class="t" x="1429" y="1040.4" font-size="6" text-anchor="middle" transform="rotate(-90 1429 1040.4)" textLength="15.6" lengthAdjust="spacingAndGlyphs">13'-4"</text>
<text class="t" x="1429" y="1153.2" font-size="6" text-anchor="middle" transform="rotate(-90 1429 1153.2)" textLength="13" lengthAdjust="spacingAndGlyphs">9'-0"</text>
<text class="t" x="1429" y="1281.5" font-size="6" text-anchor="middle" transform="rotate(-90 1429 1281.5)" textLength="15.6" lengthAdjust="spacingAndGlyphs">16'-5"</text>
<path class="w" d="M1716.5 674.4L1716.5 1204.6"/>
<path class="wt" d="M1714.7 676.2L1718.3 672.6"/>
<path class="wt" d="M1714.7 750.8L1718.3 747.2"/>
<path class="wt" d="M1714.7 852.2L1718.3 848.6"/>
<path class="wt" d="M1714.7 972.6L1718.3 969"/>
<path class="wt" d="M1714.7 1129.3L1718.3 1125.7"/>
<path class="wt" d="M1714.7 1206.4L1718.3 1202.8"/>
<text class="t" x="1712.9" y="713.9" font-size="6" text-anchor="middle" transform="rotate(-90 1712.9 713.9)" textLength="13" lengthAdjust="spacingAndGlyphs">7'-5"</text>
<text class="t" x="1712.9" y="801.9" font-size="6" text-anchor="middle" transform="rotate(-90 1712.9 801.9)" textLength="15.6" lengthAdjust="spacingAndGlyphs">10'-1"</text>
<text class="t" x="1712.9" y="912.8" font-size="6" text-anchor="middle" transform="rotate(-90 1712.9 912.8)" textLength="15.6" lengthAdjust="spacingAndGlyphs">12'-0"</text>
<text class="t" x="1712.9" y="1051.3" font-size="6" text-anchor="middle" transform="rotate(-90 1712.9 1051.3)" textLength="15.6" lengthAdjust="spacingAndGlyphs">15'-6"</text>
<text class="t" x="1712.9" y="1168.2" font-size="6" text-anchor="middle" transform="rotate(-90 1712.9 1168.2)" textLength="13" lengthAdjust="spacingAndGlyphs">7'-8"</text>
<path class="w" d="M1716.5 1204.6L1716.5 1220"/>
<circle class="w" cx="1716.5" cy="1228" r="8"/>
<path class="wt" d="M1708.5 1228L1724.5 1228"/>
<text class="t" x="1716.5" y="1226.1" font-size="3.6" text-anchor="middle">D</text>
<text class="t" x="1716.5" y="1232.6" font-size="3.4" text-anchor="middle" textLength="9" lengthAdjust="spacingAndGlyphs">2-9</text>
<path class="w" d="M1332.6 730.9L1775.8 730.9"/>
<path class="wt" d="M1330.8 732.7L1334.4 729.1"/>
<path class="wt" d="M1406.8 732.7L1410.4 729.1"/>
<path class="wt" d="M1476.5 732.7L1480.1 729.1"/>
<path class="wt" d="M1547.2 732.7L1550.8 729.1"/>
<path class="wt" d="M1620.9 732.7L1624.5 729.1"/>
<path class="wt" d="M1695.3 732.7L1698.9 729.1"/>
<path class="wt" d="M1774 732.7L1777.6 729.1"/>
<text class="t" x="1370.6" y="729.5" font-size="6" text-anchor="middle" textLength="13" lengthAdjust="spacingAndGlyphs">7'-7"</text>
<text class="t" x="1443.4" y="729.5" font-size="6" text-anchor="middle" textLength="13" lengthAdjust="spacingAndGlyphs">7'-0"</text>
<text class="t" x="1513.7" y="729.5" font-size="6" text-anchor="middle" textLength="15.6" lengthAdjust="spacingAndGlyphs">6'-11"</text>
<text class="t" x="1585.8" y="729.5" font-size="6" text-anchor="middle" textLength="13" lengthAdjust="spacingAndGlyphs">7'-4"</text>
<text class="t" x="1659.9" y="729.5" font-size="6" text-anchor="middle" textLength="13" lengthAdjust="spacingAndGlyphs">7'-5"</text>
<text class="t" x="1736.4" y="729.5" font-size="6" text-anchor="middle" textLength="13" lengthAdjust="spacingAndGlyphs">8'-1"</text>
<path class="w" d="M1332.6 832L1775.8 832"/>
<path class="wt" d="M1330.8 833.8L1334.4 830.2"/>
<path class="wt" d="M1406.8 833.8L1410.4 830.2"/>
<path class="wt" d="M1476.5 833.8L1480.1 830.2"/>
<path class="wt" d="M1521.9 833.8L1525.5 830.2"/>
<path class="wt" d="M1554.1 833.8L1557.7 830.2"/>
<path class="wt" d="M1620.9 833.8L1624.5 830.2"/>
<path class="wt" d="M1669.8 833.8L1673.4 830.2"/>
<path class="wt" d="M1719.6 833.8L1723.2 830.2"/>
<path class="wt" d="M1774 833.8L1777.6 830.2"/>
<text class="t" x="1370.6" y="830.6" font-size="6" text-anchor="middle" textLength="13" lengthAdjust="spacingAndGlyphs">7'-7"</text>
<text class="t" x="1443.4" y="830.6" font-size="6" text-anchor="middle" textLength="13" lengthAdjust="spacingAndGlyphs">7'-0"</text>
<text class="t" x="1501" y="830.6" font-size="6" text-anchor="middle" textLength="13" lengthAdjust="spacingAndGlyphs">4'-7"</text>
<text class="t" x="1539.8" y="830.6" font-size="6" text-anchor="middle" textLength="13" lengthAdjust="spacingAndGlyphs">3'-4"</text>
<text class="t" x="1589.3" y="830.6" font-size="6" text-anchor="middle" textLength="13" lengthAdjust="spacingAndGlyphs">6'-4"</text>
<text class="t" x="1647.2" y="830.6" font-size="6" text-anchor="middle" textLength="15.6" lengthAdjust="spacingAndGlyphs">4'-11"</text>
<text class="t" x="1696.5" y="830.6" font-size="6" text-anchor="middle" textLength="13" lengthAdjust="spacingAndGlyphs">5'-0"</text>
<text class="t" x="1748.6" y="830.6" font-size="6" text-anchor="middle" textLength="13" lengthAdjust="spacingAndGlyphs">5'-7"</text>
<path class="w" d="M1332.6 947.4L1794.7 947.4"/>
<path class="wt" d="M1330.8 949.2L1334.4 945.6"/>
<path class="wt" d="M1402.4 949.2L1406 945.6"/>
<path class="wt" d="M1468.3 949.2L1471.9 945.6"/>
<path class="wt" d="M1533.6 949.2L1537.2 945.6"/>
<path class="wt" d="M1557.1 949.2L1560.7 945.6"/>
<path class="wt" d="M1611.8 949.2L1615.4 945.6"/>
<path class="wt" d="M1666 949.2L1669.6 945.6"/>
<path class="wt" d="M1725.5 949.2L1729.1 945.6"/>
<path class="wt" d="M1792.9 949.2L1796.5 945.6"/>
<text class="t" x="1368.4" y="946" font-size="6" text-anchor="middle" textLength="13" lengthAdjust="spacingAndGlyphs">7'-2"</text>
<text class="t" x="1437.2" y="946" font-size="6" text-anchor="middle" textLength="13" lengthAdjust="spacingAndGlyphs">6'-6"</text>
<text class="t" x="1502.8" y="946" font-size="6" text-anchor="middle" textLength="13" lengthAdjust="spacingAndGlyphs">6'-6"</text>
<text class="t" x="1547.2" y="946" font-size="6" text-anchor="middle" textLength="13" lengthAdjust="spacingAndGlyphs">2'-4"</text>
<text class="t" x="1586.2" y="946" font-size="6" text-anchor="middle" textLength="13" lengthAdjust="spacingAndGlyphs">5'-5"</text>
<text class="t" x="1640.7" y="946" font-size="6" text-anchor="middle" textLength="13" lengthAdjust="spacingAndGlyphs">5'-5"</text>
<text class="t" x="1697.5" y="946" font-size="6" text-anchor="middle" textLength="15.6" lengthAdjust="spacingAndGlyphs">5'-10"</text>
<text class="t" x="1761" y="946" font-size="6" text-anchor="middle" textLength="15.6" lengthAdjust="spacingAndGlyphs">7'-10"</text>
<path class="w" d="M1332.6 1084.5L1794 1084.5"/>
<path class="wt" d="M1330.8 1086.3L1334.4 1082.7"/>
<path class="wt" d="M1400.3 1086.3L1403.9 1082.7"/>
<path class="wt" d="M1463.3 1086.3L1466.9 1082.7"/>
<path class="wt" d="M1510.2 1086.3L1513.8 1082.7"/>
<path class="wt" d="M1557.1 1086.3L1560.7 1082.7"/>
<path class="wt" d="M1607.4 1086.3L1611 1082.7"/>
<path class="wt" d="M1661.9 1086.3L1665.5 1082.7"/>
<path class="wt" d="M1741 1086.3L1744.6 1082.7"/>
<path class="wt" d="M1792.2 1086.3L1795.8 1082.7"/>
<text class="t" x="1367.3" y="1083.1" font-size="6" text-anchor="middle" textLength="15.6" lengthAdjust="spacingAndGlyphs">6'-11"</text>
<text class="t" x="1433.6" y="1083.1" font-size="6" text-anchor="middle" textLength="13" lengthAdjust="spacingAndGlyphs">6'-3"</text>
<text class="t" x="1488.5" y="1083.1" font-size="6" text-anchor="middle" textLength="13" lengthAdjust="spacingAndGlyphs">4'-8"</text>
<text class="t" x="1535.5" y="1083.1" font-size="6" text-anchor="middle" textLength="13" lengthAdjust="spacingAndGlyphs">4'-8"</text>
<text class="t" x="1584.1" y="1083.1" font-size="6" text-anchor="middle" textLength="13" lengthAdjust="spacingAndGlyphs">5'-0"</text>
<text class="t" x="1636.5" y="1083.1" font-size="6" text-anchor="middle" textLength="13" lengthAdjust="spacingAndGlyphs">5'-5"</text>
<text class="t" x="1703.2" y="1083.1" font-size="6" text-anchor="middle" textLength="15.6" lengthAdjust="spacingAndGlyphs">7'-10"</text>
<text class="t" x="1768.4" y="1083.1" font-size="6" text-anchor="middle" textLength="15.6" lengthAdjust="spacingAndGlyphs">4'-11"</text>
<path class="w" d="M1326.6 1224.8L1617.8 1224.8"/>
<path class="wt" d="M1324.8 1226.6L1328.4 1223"/>
<path class="wt" d="M1400.5 1226.6L1404.1 1223"/>
<path class="wt" d="M1463.2 1226.6L1466.8 1223"/>
<path class="wt" d="M1534.8 1226.6L1538.4 1223"/>
<path class="wt" d="M1616 1226.6L1619.6 1223"/>
<text class="t" x="1364.4" y="1223.4" font-size="6" text-anchor="middle" textLength="13" lengthAdjust="spacingAndGlyphs">7'-4"</text>
<text class="t" x="1433.7" y="1223.4" font-size="6" text-anchor="middle" textLength="13" lengthAdjust="spacingAndGlyphs">6'-3"</text>
<text class="t" x="1500.8" y="1223.4" font-size="6" text-anchor="middle" textLength="13" lengthAdjust="spacingAndGlyphs">7'-1"</text>
<text class="t" x="1577.2" y="1223.4" font-size="6" text-anchor="middle" textLength="13" lengthAdjust="spacingAndGlyphs">8'-0"</text>
<path class="w" d="M1624.6 650.3L1778.6 650.3"/>
<path class="wt" d="M1622.8 652.1L1626.4 648.5"/>
<path class="wt" d="M1776.8 652.1L1780.4 648.5"/>
<text class="t" x="1701.6" y="648.9" font-size="6" text-anchor="middle" textLength="15.6" lengthAdjust="spacingAndGlyphs">15'-4"</text>
<path class="w" d="M1778.6 643L1778.6 671"/>
<path class="w" d="M1332.6 623.9L1557.7 623.9"/>
<path class="wt" d="M1330.8 625.7L1334.4 622.1"/>
<path class="wt" d="M1555.9 625.7L1559.5 622.1"/>
<text class="t" x="1442.2" y="622.7" font-size="6" text-anchor="middle" textLength="12" lengthAdjust="spacingAndGlyphs">22'-4"</text>
<path class="w" d="M1539.8 475.6L1539.8 639.9"/>
<path class="wt" d="M1538 477.4L1541.6 473.8"/>
<path class="wt" d="M1538 641.7L1541.6 638.1"/>
<text class="t" x="1536.5" y="559.2" font-size="6" text-anchor="middle" transform="rotate(-90 1536.5 559.2)" textLength="12" lengthAdjust="spacingAndGlyphs">16'-4"</text>
<path class="w" d="M1580.5 641.5L1580.5 749"/>
<path class="wt" d="M1578.7 643.3L1582.3 639.7"/>
<path class="wt" d="M1578.7 750.8L1582.3 747.2"/>
<text class="t" x="1576.9" y="697.4" font-size="6" text-anchor="middle" transform="rotate(-90 1576.9 697.4)" textLength="15.6" lengthAdjust="spacingAndGlyphs">10'-7"</text>
<path class="w" d="M1587.2 1105.6L1587.2 1301.4"/>
<path class="wt" d="M1585.4 1107.4L1589 1103.8"/>
<path class="wt" d="M1585.4 1150.7L1589 1147.1"/>
<path class="wt" d="M1585.4 1198.2L1589 1194.6"/>
<path class="wt" d="M1585.4 1303.2L1589 1299.6"/>
<text class="t" x="1583.6" y="1129.4" font-size="6" text-anchor="middle" transform="rotate(-90 1583.6 1129.4)" textLength="13" lengthAdjust="spacingAndGlyphs">4'-4"</text>
<text class="t" x="1583.6" y="1174.8" font-size="6" text-anchor="middle" transform="rotate(-90 1583.6 1174.8)" textLength="13" lengthAdjust="spacingAndGlyphs">4'-6"</text>
<text class="t" x="1583.6" y="1251.1" font-size="6" text-anchor="middle" transform="rotate(-90 1583.6 1251.1)" textLength="15.6" lengthAdjust="spacingAndGlyphs">10'-5"</text>
<path class="w" d="M1527.5 909.3L1527.5 970.8"/>
<path class="wt" d="M1525.7 911.1L1529.3 907.5"/>
<path class="wt" d="M1525.7 972.6L1529.3 969"/>
<text class="t" x="1523.9" y="942.2" font-size="6" text-anchor="middle" transform="rotate(-90 1523.9 942.2)" textLength="13" lengthAdjust="spacingAndGlyphs">6'-0"</text>
<path class="w" d="M1527.5 909.3L1545 909.3"/>
<path class="w" d="M1646.5 684L1646.5 749"/>
<path class="wt" d="M1644.7 685.8L1648.3 682.2"/>
<path class="wt" d="M1644.7 716.3L1648.3 712.7"/>
<path class="wt" d="M1644.7 750.8L1648.3 747.2"/>
<text class="t" x="1642.9" y="701.4" font-size="6" text-anchor="middle" transform="rotate(-90 1642.9 701.4)" textLength="13" lengthAdjust="spacingAndGlyphs">4'-2"</text>
<text class="t" x="1642.9" y="733.9" font-size="6" text-anchor="middle" transform="rotate(-90 1642.9 733.9)" textLength="13" lengthAdjust="spacingAndGlyphs">3'-3"</text>
<path class="w" d="M1782.5 831.5L1806.5 831.5"/>
<path class="wt" d="M1780.7 833.3L1784.3 829.7"/>
<path class="wt" d="M1788.7 833.3L1792.3 829.7"/>
<path class="wt" d="M1804.7 833.3L1808.3 829.7"/>
<path class="w" d="M1782.5 828L1782.5 846"/>
<path class="w" d="M1806.5 828L1806.5 848"/>
<text class="t" x="1787" y="830.3" font-size="5" text-anchor="middle" textLength="8" lengthAdjust="spacingAndGlyphs">1'-4"</text>
<text class="t" x="1799" y="830.3" font-size="5" text-anchor="middle" textLength="8" lengthAdjust="spacingAndGlyphs">1'-4"</text>
<path class="w" d="M1779.5 1117L1806.5 1117"/>
<path class="wt" d="M1777.7 1118.8L1781.3 1115.2"/>
<path class="wt" d="M1790.7 1118.8L1794.3 1115.2"/>
<path class="wt" d="M1804.7 1118.8L1808.3 1115.2"/>
<text class="t" x="1786" y="1115.6" font-size="5" text-anchor="middle" textLength="8" lengthAdjust="spacingAndGlyphs">1'-4"</text>
<text class="t" x="1799.5" y="1115.6" font-size="5" text-anchor="middle" textLength="8" lengthAdjust="spacingAndGlyphs">1'-4"</text>
<path class="w" d="M1792.5 1097L1792.5 1124"/>
<path class="w" d="M1806.5 1097L1806.5 1124"/>
<path class="w" d="M1307.8 951.8L1332.6 951.8"/>
<path class="wt" d="M1306 953.6L1309.6 950"/>
<path class="wt" d="M1330.8 953.6L1334.4 950"/>
<text class="t" x="1320.2" y="950.4" font-size="6" text-anchor="middle" textLength="13" lengthAdjust="spacingAndGlyphs">2'-4"</text>
<path class="w" d="M1307.8 948L1307.8 964"/>
<path class="w" d="M1641 947.4L1668 947.4"/>
<path class="w" d="M1781 947.4L1822 947.4"/>
<circle class="w" cx="1832" cy="949.5" r="7.8"/>
<path class="wt" d="M1824.2 949.5L1839.8 949.5"/>
<text class="t" x="1832" y="947.6" font-size="3.6" text-anchor="middle">D</text>
<text class="t" x="1832" y="954.1" font-size="3.4" text-anchor="middle" textLength="9" lengthAdjust="spacingAndGlyphs">2-10</text>
<text class="t" x="1811" y="260.4" font-size="6" text-anchor="middle" textLength="138" lengthAdjust="spacingAndGlyphs">4" CONC. SLAB (TABLE R402.2) w/ FIBERMESH</text>
<text class="t" x="1448.7" y="552.9" font-size="6" text-anchor="middle" textLength="138" lengthAdjust="spacingAndGlyphs">4" CONC. SLAB (TABLE R402.2) w/ FIBERMESH</text>
<text class="t" x="1811" y="267.9" font-size="6" text-anchor="middle" textLength="140" lengthAdjust="spacingAndGlyphs">OR WIREMESH ON 6 MIL VAPOR RETARDER (AS</text>
<text class="t" x="1448.7" y="560.2" font-size="6" text-anchor="middle" textLength="140" lengthAdjust="spacingAndGlyphs">OR WIREMESH ON 6 MIL VAPOR RETARDER (AS</text>
<text class="t" x="1811" y="275.4" font-size="6" text-anchor="middle" textLength="133" lengthAdjust="spacingAndGlyphs">REQUIRED) ON BASE COURSE (R506.2.2). SEE</text>
<text class="t" x="1448.7" y="567.5" font-size="6" text-anchor="middle" textLength="133" lengthAdjust="spacingAndGlyphs">REQUIRED) ON BASE COURSE (R506.2.2). SEE</text>
<text class="t" x="1811" y="282.9" font-size="6" text-anchor="middle" textLength="101" lengthAdjust="spacingAndGlyphs">R506.2.1 FOR FILL REQUIREMENTS.</text>
<text class="t" x="1448.7" y="574.8" font-size="6" text-anchor="middle" textLength="101" lengthAdjust="spacingAndGlyphs">R506.2.1 FOR FILL REQUIREMENTS.</text>
<text class="t" x="1389" y="585.1" font-size="6" text-anchor="middle" textLength="23" lengthAdjust="spacingAndGlyphs">12" FTG.</text>
<text class="t" x="1389.5" y="591.6" font-size="6" text-anchor="middle" textLength="37" lengthAdjust="spacingAndGlyphs">PROJECTION</text>
<text class="t" x="1389.5" y="598.4" font-size="6" text-anchor="middle" textLength="43" lengthAdjust="spacingAndGlyphs">AT FIREPLACE</text>
<text class="t" x="2025" y="78.3" font-size="6" textLength="93" lengthAdjust="spacingAndGlyphs">REFER TO "SD"  SHEET(S) FOR</text>
<text class="t" x="2028" y="85.6" font-size="6" textLength="91" lengthAdjust="spacingAndGlyphs">STANDARD DETAILS, BRACING</text>
<text class="t" x="2025" y="92.4" font-size="6" textLength="101" lengthAdjust="spacingAndGlyphs">DETAILS AND STRUCTURAL NOTES.</text>
<text class="t" x="1883" y="130.2" font-size="6" text-anchor="middle" textLength="18" lengthAdjust="spacingAndGlyphs">16"x8"</text>
<text class="t" x="1883" y="137.7" font-size="6" text-anchor="middle" textLength="33" lengthAdjust="spacingAndGlyphs">CONC. FTG.</text>
<path class="wt" d="M1893 127.3L1898 127.3L1909.5 144.5"/>
<text class="t" x="1709" y="364.2" font-size="6" text-anchor="middle" textLength="35" lengthAdjust="spacingAndGlyphs">24"x24"x10"</text>
<text class="t" x="1709" y="371.7" font-size="6" text-anchor="middle" textLength="33" lengthAdjust="spacingAndGlyphs">CONC. FTG.</text>
<path class="wt" d="M1690 361.5L1683 361.5L1675 375.5"/>
<text class="t" x="1805.5" y="358.7" font-size="6" text-anchor="middle" textLength="35" lengthAdjust="spacingAndGlyphs">36"x36"x12"</text>
<text class="t" x="1805.5" y="366.2" font-size="6" text-anchor="middle" textLength="33" lengthAdjust="spacingAndGlyphs">CONC. FTG.</text>
<path class="wt" d="M1786.5 356L1779.5 356L1771.5 371"/>
<text class="t" x="1927.5" y="367.2" font-size="6" text-anchor="middle" textLength="35" lengthAdjust="spacingAndGlyphs">30"x30"x10"</text>
<text class="t" x="1927.5" y="374.7" font-size="6" text-anchor="middle" textLength="33" lengthAdjust="spacingAndGlyphs">CONC. FTG.</text>
<path class="wt" d="M1946 366L1953 368L1985 383"/>
<path class="wt" d="M1807.1 719.8L1804.8 723.8L1800.2 723.8L1797.9 719.8L1800.2 715.8L1804.8 715.8Z"/>
<text class="t" x="1802.5" y="721.4" font-size="4.4" text-anchor="middle">3</text>
<text class="t" x="1809" y="718" font-size="6" textLength="42" lengthAdjust="spacingAndGlyphs">SIDING: 16"x8"</text>
<text class="t" x="1813" y="725.5" font-size="6" textLength="33" lengthAdjust="spacingAndGlyphs">CONC. FTG.</text>
<path class="wt" d="M1797.5 719.8L1790 719.8L1784.5 729.5"/>
<path class="wt" d="M1814.1 1137.4L1811.8 1141.4L1807.2 1141.4L1804.9 1137.4L1807.2 1133.4L1811.8 1133.4Z"/>
<text class="t" x="1809.5" y="1139" font-size="4.4" text-anchor="middle">3</text>
<text class="t" x="1817" y="1134.5" font-size="6" textLength="43" lengthAdjust="spacingAndGlyphs">BRICK: 20"x8"</text>
<text class="t" x="1821.5" y="1142" font-size="6" textLength="33" lengthAdjust="spacingAndGlyphs">CONC. FTG.</text>
<path class="wt" d="M1804.5 1137.4L1798 1137.4L1786.5 1144.5"/>
<text class="t" x="1589.5" y="701.2" font-size="6" text-anchor="middle" textLength="18" lengthAdjust="spacingAndGlyphs">FLUSH</text>
<text class="t" x="1589.5" y="708.2" font-size="6" text-anchor="middle" textLength="13" lengthAdjust="spacingAndGlyphs">PIER</text>
<path class="wt" d="M1601 713L1607 713L1614 716"/>
<text class="t" x="1591.5" y="900.7" font-size="6" text-anchor="middle" textLength="18" lengthAdjust="spacingAndGlyphs">FLUSH</text>
<text class="t" x="1591.5" y="907.7" font-size="6" text-anchor="middle" textLength="13" lengthAdjust="spacingAndGlyphs">PIER</text>
<path class="wt" d="M1580 898.5L1574 898.5L1567 905"/>
<text class="t" x="1585" y="1052.2" font-size="6" text-anchor="middle" textLength="18" lengthAdjust="spacingAndGlyphs">FLUSH</text>
<text class="t" x="1585" y="1059.7" font-size="6" text-anchor="middle" textLength="13" lengthAdjust="spacingAndGlyphs">PIER</text>
<path class="wt" d="M1574 1050L1568 1050L1562 1062"/>
<text class="t" x="1512.5" y="879.7" font-size="6" text-anchor="middle" textLength="28" lengthAdjust="spacingAndGlyphs">DBL PIER</text>
<path class="wt" d="M1527.5 877.5L1538 877.5L1551 857"/>
<text class="t" x="1589" y="810.7" font-size="6" text-anchor="middle" textLength="35" lengthAdjust="spacingAndGlyphs">30"x30"x10"</text>
<text class="t" x="1589" y="817.7" font-size="6" text-anchor="middle" textLength="33" lengthAdjust="spacingAndGlyphs">CONC. FTG.</text>
<path class="wt" d="M1571 808.5L1566 808.5L1566 834"/>
<text class="t" x="1650" y="1154.7" font-size="6" text-anchor="middle" textLength="35" lengthAdjust="spacingAndGlyphs">30"x30"x10"</text>
<text class="t" x="1650" y="1162.2" font-size="6" text-anchor="middle" textLength="33" lengthAdjust="spacingAndGlyphs">CONC. FTG.</text>
<text class="t" x="1587.5" y="638.7" font-size="6" text-anchor="middle" textLength="30" lengthAdjust="spacingAndGlyphs">T.J. (FLUSH)</text>
<text class="t" x="1322" y="678.3" font-size="5" text-anchor="middle" transform="rotate(-90 1322 678.3)" textLength="24" lengthAdjust="spacingAndGlyphs">48" X 32"</text>
<text class="t" x="1327" y="678.3" font-size="5" text-anchor="middle" transform="rotate(-90 1327 678.3)" textLength="17" lengthAdjust="spacingAndGlyphs">ACCESS</text>
<rect class="w" x="1332.6" y="661" width="5" height="32"/>
<text class="t" x="1521.5" y="691.2" font-size="6" text-anchor="middle" transform="rotate(-90 1521.5 691.2)" textLength="9" lengthAdjust="spacingAndGlyphs">D.J.</text>
<text class="t" x="1521.5" y="795.2" font-size="6" text-anchor="middle" transform="rotate(-90 1521.5 795.2)" textLength="9" lengthAdjust="spacingAndGlyphs">D.J.</text>
<text class="t" x="1544.5" y="697.2" font-size="6" text-anchor="middle" transform="rotate(-90 1544.5 697.2)" textLength="48" lengthAdjust="spacingAndGlyphs">(2) 1.75x9.25 LVL</text>
<text class="t" x="1544.5" y="798.2" font-size="6" text-anchor="middle" transform="rotate(-90 1544.5 798.2)" textLength="48" lengthAdjust="spacingAndGlyphs">(2) 1.75x9.25 LVL</text>
<text class="t" x="1604" y="669.2" font-size="6" text-anchor="middle" transform="rotate(-90 1604 669.2)" textLength="48" lengthAdjust="spacingAndGlyphs">(2) 1.75x9.25 LVL</text>
<text class="t" x="1618" y="798.2" font-size="6" text-anchor="middle" transform="rotate(-90 1618 798.2)" textLength="48" lengthAdjust="spacingAndGlyphs">(2) 1.75x9.25 LVL</text>
<text class="t" x="1554" y="1022.2" font-size="6" text-anchor="middle" transform="rotate(-90 1554 1022.2)" textLength="48" lengthAdjust="spacingAndGlyphs">(2) 1.75x9.25 LVL</text>
<text class="t" x="1484.5" y="1131.2" font-size="6" text-anchor="middle" transform="rotate(-90 1484.5 1131.2)" textLength="9" lengthAdjust="spacingAndGlyphs">D.J.</text>
<text class="t" x="1604.5" y="1176.2" font-size="6" text-anchor="middle" transform="rotate(-90 1604.5 1176.2)" textLength="9" lengthAdjust="spacingAndGlyphs">D.J.</text>
<text class="t" x="1561" y="1180.2" font-size="6" text-anchor="middle" transform="rotate(-90 1561 1180.2)" textLength="9" lengthAdjust="spacingAndGlyphs">D.J.</text>
<text class="t" x="1561" y="1248.2" font-size="6" text-anchor="middle" transform="rotate(-90 1561 1248.2)" textLength="9" lengthAdjust="spacingAndGlyphs">D.J.</text>
<text class="t" x="1460.5" y="1248.2" font-size="6" text-anchor="middle" transform="rotate(-90 1460.5 1248.2)" textLength="9" lengthAdjust="spacingAndGlyphs">T.J.</text>
<path class="wt" d="M1656.1 995.5L1653.8 999.5L1649.2 999.5L1646.9 995.5L1649.2 991.5L1653.8 991.5Z"/>
<text class="t" x="1651.5" y="997.1" font-size="4.4" text-anchor="middle">1</text>
<path class="wt" d="M1646.5 995.5L1641 995.5L1643 974"/>
<path class="wt" d="M1627.1 999L1624.8 1003L1620.2 1003L1617.9 999L1620.2 995L1624.8 995Z"/>
<text class="t" x="1622.5" y="1000.6" font-size="4.4" text-anchor="middle">2</text>
<path class="wt" d="M1617.5 999L1612 999L1610.5 985L1613.6 984"/>
<text class="t" x="943" y="176.2" font-size="8" textLength="96.5" lengthAdjust="spacingAndGlyphs">ROOF FRAMING NOTES:</text>
<path class="wt" d="M943 178L1039.5 178"/>
<text class="t" x="943" y="185.8" font-size="6" textLength="83" lengthAdjust="spacingAndGlyphs">STATE Wind: 115-120 mph</text>
<text class="t" x="943" y="201.1" font-size="5.2">1.</text>
<text class="t" x="956.9" y="201.1" font-size="5.2" textLength="109" lengthAdjust="spacingAndGlyphs">2x8 @ 16" O.C. WITH 2x10 RIDGE, UNO.</text>
<text class="t" x="943" y="216.7" font-size="5.2">2.</text>
<text class="t" x="956.9" y="216.7" font-size="5.2" textLength="158.5" lengthAdjust="spacingAndGlyphs">(2) 2x10 OR 1.75x11.875 LVL HIP. (2) 2x10 HIPS MAY BE</text>
<text class="t" x="956.9" y="224.6" font-size="5.2" textLength="143" lengthAdjust="spacingAndGlyphs">SPLICED WITH A MIN. 6'-0" OVERLAP AT CENTER</text>
<text class="t" x="943" y="240.7" font-size="5.2">3.</text>
<text class="t" x="956.9" y="240.7" font-size="5.2" textLength="151" lengthAdjust="spacingAndGlyphs">(2) 2x10 OR 1.75x9.25 LVL VALLEY. DO NOT SPLICE</text>
<text class="t" x="956.9" y="248.5" font-size="5.2" textLength="27" lengthAdjust="spacingAndGlyphs">VALLEYS</text>
<text class="t" x="943" y="264.1" font-size="5.2">4.</text>
<text class="t" x="956.9" y="264.1" font-size="5.2" textLength="127" lengthAdjust="spacingAndGlyphs">1.75x11.875 LVL OR (2)1.75x9.25 LVL VALLEY</text>
<text class="t" x="943" y="279.2" font-size="5.2">5.</text>
<text class="t" x="956.9" y="279.2" font-size="5.2" textLength="131" lengthAdjust="spacingAndGlyphs">FALSE FRAME VALLEY ON 2x10 FLAT PLATE</text>
<text class="t" x="943" y="295.1" font-size="5.2">6.</text>
<text class="t" x="956.9" y="295.1" font-size="5.2" textLength="130" lengthAdjust="spacingAndGlyphs">2x6 RAFTERS @ 16" O.C. W/ 2x8 RIDGE. UNO.</text>
<text class="t" x="943" y="310.5" font-size="5.2">7.</text>
<text class="t" x="956.9" y="310.5" font-size="5.2" textLength="134" lengthAdjust="spacingAndGlyphs">2x10 RAFTERS @ 16" O.C. W/ 2x12 RIDGE. UNO.</text>
<text class="t" x="943" y="325.7" font-size="5.2">8.</text>
<text class="t" x="956.9" y="325.7" font-size="5.2" textLength="123" lengthAdjust="spacingAndGlyphs">EXTEND RIDGE 12" BEYOND INTERSECTION</text>
<circle class="wf" cx="944.3" cy="339.5" r="1.1"/>
<text class="t" x="956.9" y="341.4" font-size="5.2" textLength="69" lengthAdjust="spacingAndGlyphs">"SR"  = SINGLE RAFTER</text>
<circle class="wf" cx="944.3" cy="347.3" r="1.1"/>
<text class="t" x="956.9" y="349.2" font-size="5.2" textLength="70" lengthAdjust="spacingAndGlyphs">"DR" = DOUBLE RAFTER</text>
<circle class="wf" cx="944.3" cy="355" r="1.1"/>
<text class="t" x="956.9" y="356.9" font-size="5.2" textLength="66" lengthAdjust="spacingAndGlyphs">"TR" = TRIPLE RAFTER</text>
<circle class="wf" cx="944.3" cy="362.9" r="1.1"/>
<text class="t" x="956.9" y="364.8" font-size="5.2" textLength="66" lengthAdjust="spacingAndGlyphs">"RS" = ROOF SUPPORT</text>
<circle class="wf" cx="944.3" cy="370.8" r="1.1"/>
<text class="t" x="956.9" y="372.7" font-size="5.2" textLength="160" lengthAdjust="spacingAndGlyphs">"■" = (3) STUD OR 4x4 POST FOR ROOF SUPPORT (USE</text>
<text class="t" x="956.9" y="380.5" font-size="5.2" textLength="164" lengthAdjust="spacingAndGlyphs">2X6 STUDS OR 6X6 POST FOR SUPPORT OVER 10'-0" IN</text>
<text class="t" x="956.9" y="388.3" font-size="5.2" textLength="27" lengthAdjust="spacingAndGlyphs">HEIGHT)</text>
<circle class="wf" cx="944.3" cy="394.4" r="1.1"/>
<text class="t" x="956.9" y="396.3" font-size="5.2" textLength="152" lengthAdjust="spacingAndGlyphs">ATTACH VAULTED RAFTERS WITH HURRICANE CLIPS:</text>
<text class="t" x="956.9" y="404.1" font-size="5.2" textLength="170" lengthAdjust="spacingAndGlyphs">SIMPSON "H-2.5A" OR EQUIVALENT. TIES TO BE INSTALLED</text>
<text class="t" x="956.9" y="411.9" font-size="5.2" textLength="107" lengthAdjust="spacingAndGlyphs">ON THE OUTSIDE FACE OF FRAMING.</text>
<circle class="wf" cx="944.3" cy="417.9" r="1.1"/>
<text class="t" x="956.9" y="419.8" font-size="5.2" textLength="161" lengthAdjust="spacingAndGlyphs">INSTALL RAFTER TIES AND COLLAR TIES PER SECTION</text>
<text class="t" x="956.9" y="427.6" font-size="5.2" textLength="106" lengthAdjust="spacingAndGlyphs">R802.3.1 OF THE 2018 STATE CODE.</text>
<text class="t" x="995" y="1191.8" font-size="8" textLength="134.5" lengthAdjust="spacingAndGlyphs">FOUNDATION STRUCTURAL NOTES</text>
<path class="wt" d="M995 1193.8L1129.5 1193.8"/>
<text class="t" x="995" y="1200.9" font-size="6" textLength="98.5" lengthAdjust="spacingAndGlyphs">STATE Wind: 115-120 mph - CRAWL</text>
<path class="wt" d="M1000 1214.3L997.9 1217.9L993.7 1217.9L991.6 1214.3L993.7 1210.7L997.9 1210.7Z"/>
<text class="t" x="995.8" y="1216" font-size="4.6" text-anchor="middle">1</text>
<text class="t" x="1012.7" y="1216.2" font-size="5.2" textLength="141" lengthAdjust="spacingAndGlyphs">(3)2x10 SYP#2 OR SPF#2 GIRDER, TYPICAL UNO.</text>
<path class="wt" d="M1001.2 1230.5L999.1 1234.1L994.9 1234.1L992.8 1230.5L994.9 1226.9L999.1 1226.9Z"/>
<text class="t" x="997" y="1232.2" font-size="4.6" text-anchor="middle">2</text>
<text class="t" x="1012.7" y="1231.8" font-size="5.2" textLength="117" lengthAdjust="spacingAndGlyphs">CONCRETE BLOCK PIER SIZE SHALL BE:</text>
<rect class="wf" x="1001" y="1237.1" width="4.6" height="2"/>
<text class="t" x="1031" y="1239.6" font-size="5.2" textLength="12.4" lengthAdjust="spacingAndGlyphs">SIZE</text>
<text class="t" x="1065.5" y="1239.6" font-size="5.2" textLength="19.8" lengthAdjust="spacingAndGlyphs">HOLLOW</text>
<text class="t" x="1112.3" y="1239.6" font-size="5.2" textLength="15.8" lengthAdjust="spacingAndGlyphs">SOLID</text>
<rect class="wf" x="1001" y="1244.5" width="4.6" height="2"/>
<text class="t" x="1031" y="1247" font-size="5.2" textLength="12.4" lengthAdjust="spacingAndGlyphs">8x16</text>
<text class="t" x="1065.5" y="1247" font-size="5.2" textLength="29.7" lengthAdjust="spacingAndGlyphs">UP TO 32"</text>
<text class="t" x="1112.3" y="1247" font-size="5.2" textLength="34.6" lengthAdjust="spacingAndGlyphs">UP TO 5'-0"</text>
<rect class="wf" x="1001" y="1252.1" width="4.6" height="2"/>
<text class="t" x="1031" y="1254.6" font-size="5.2" textLength="15.5" lengthAdjust="spacingAndGlyphs">12x16</text>
<text class="t" x="1065.5" y="1254.6" font-size="5.2" textLength="29.7" lengthAdjust="spacingAndGlyphs">UP TO 48"</text>
<text class="t" x="1112.3" y="1254.6" font-size="5.2" textLength="34.6" lengthAdjust="spacingAndGlyphs">UP TO 9'-0"</text>
<rect class="wf" x="1001" y="1259.6" width="4.6" height="2"/>
<text class="t" x="1031" y="1262.1" font-size="5.2" textLength="15.5" lengthAdjust="spacingAndGlyphs">16x16</text>
<text class="t" x="1065.5" y="1262.1" font-size="5.2" textLength="29.7" lengthAdjust="spacingAndGlyphs">UP TO 64"</text>
<text class="t" x="1112.3" y="1262.1" font-size="5.2" textLength="37.8" lengthAdjust="spacingAndGlyphs">UP TO 12'-0"</text>
<rect class="wf" x="1001" y="1267.1" width="4.6" height="2"/>
<text class="t" x="1031" y="1269.6" font-size="5.2" textLength="15.5" lengthAdjust="spacingAndGlyphs">24x24</text>
<text class="t" x="1065.5" y="1269.6" font-size="5.2" textLength="29.7" lengthAdjust="spacingAndGlyphs">UP TO 96"</text>
<path class="wt" d="M1031 1240.2L1043 1240.2"/>
<path class="wt" d="M1065.5 1240.2L1090 1240.2"/>
<path class="wt" d="M1112.3 1240.2L1130 1240.2"/>
<circle class="wf" cx="996.3" cy="1276.1" r="1.1"/>
<text class="t" x="1012.7" y="1278" font-size="5.2" textLength="138" lengthAdjust="spacingAndGlyphs">WITH 30" x 30" x 10" CONCRETE FOOTING, UNO.</text>
<path class="wt" d="M1001.2 1291.2L999.1 1294.8L994.9 1294.8L992.8 1291.2L994.9 1287.6L999.1 1287.6Z"/>
<text class="t" x="997" y="1292.9" font-size="4.6" text-anchor="middle">3</text>
<text class="t" x="1012.7" y="1292.7" font-size="5.2" textLength="84" lengthAdjust="spacingAndGlyphs">WALL FOOTING AS FOLLOWS</text>
<rect class="wf" x="1001" y="1298" width="4.6" height="2"/>
<text class="t" x="1031" y="1300.5" font-size="5.2" textLength="19.2" lengthAdjust="spacingAndGlyphs">DEPTH:</text>
<text class="t" x="1065.5" y="1300.5" font-size="5.2" textLength="58.5" lengthAdjust="spacingAndGlyphs">8" - UP TO 2 STORY</text>
<text class="t" x="1065.5" y="1308.2" font-size="5.2" textLength="42.2" lengthAdjust="spacingAndGlyphs">10" - 3 STORY</text>
<rect class="wf" x="1001" y="1313.5" width="4.6" height="2"/>
<text class="t" x="1031" y="1316" font-size="5.2" textLength="19.2" lengthAdjust="spacingAndGlyphs">WIDTH:</text>
<rect class="wf" x="1001" y="1321.1" width="4.6" height="2"/>
<text class="t" x="1031" y="1323.6" font-size="5.2" textLength="22.4" lengthAdjust="spacingAndGlyphs">SIDING:</text>
<text class="t" x="1065.5" y="1323.6" font-size="5.2" textLength="61.8" lengthAdjust="spacingAndGlyphs">16" - UP TO 2 STORY</text>
<text class="t" x="1065.5" y="1331" font-size="5.2" textLength="42.2" lengthAdjust="spacingAndGlyphs">20" - 3 STORY</text>
<rect class="wf" x="1001" y="1336.3" width="4.6" height="2"/>
<text class="t" x="1031" y="1338.8" font-size="5.2" textLength="19.2" lengthAdjust="spacingAndGlyphs">BRICK:</text>
<text class="t" x="1065.5" y="1338.8" font-size="5.2" textLength="42.2" lengthAdjust="spacingAndGlyphs">16" - 1 STORY</text>
<text class="t" x="1065.5" y="1346.4" font-size="5.2" textLength="42.2" lengthAdjust="spacingAndGlyphs">20" - 2 STORY</text>
<text class="t" x="1065.5" y="1354.2" font-size="5.2" textLength="42.2" lengthAdjust="spacingAndGlyphs">24" - 3 STORY</text>
<path class="wt" d="M1031 1316.6L1049 1316.6"/>
<circle class="wf" cx="996.3" cy="1367.8" r="1.1"/>
<text class="t" x="1012.7" y="1369.7" font-size="5.2" textLength="137" lengthAdjust="spacingAndGlyphs">FOR FOUNDATION WALL HEIGHT AND BACKFILL</text>
<text class="t" x="1012.7" y="1377.5" font-size="5.2" textLength="147" lengthAdjust="spacingAndGlyphs">REQUIREMENTS, REFER TO CODE TABLE R404.1.1 (1</text>
<text class="t" x="1012.7" y="1385.6" font-size="5.2" textLength="153" lengthAdjust="spacingAndGlyphs">THRU 4). NOTE: ASSUMED SOIL BEARING CAPACITY =</text>
<text class="t" x="1012.7" y="1393.2" font-size="5.2" textLength="131" lengthAdjust="spacingAndGlyphs">2000 PSF. CONTRACTOR MUST VERIFY SITE</text>
<text class="t" x="1012.7" y="1400.9" font-size="5.2" textLength="136" lengthAdjust="spacingAndGlyphs">CONDITIONS AND CONTACT SOILS ENGINEER IF</text>
<text class="t" x="1012.7" y="1408.4" font-size="5.2" textLength="152" lengthAdjust="spacingAndGlyphs">MARGINAL OR UNSTABLE SOILS ARE ENCOUNTERED.</text>
<path class="wt" d="M1001.2 1422.8L999.1 1426.4L994.9 1426.4L992.8 1422.8L994.9 1419.2L999.1 1419.2Z"/>
<text class="t" x="997" y="1424.5" font-size="4.6" text-anchor="middle">4</text>
<text class="t" x="1012.7" y="1424.4" font-size="5.2" textLength="106" lengthAdjust="spacingAndGlyphs">(4) 2x10 SPF #2 OR SYP #2 GIRDER</text>
<path class="wt" d="M1001.2 1438.4L999.1 1442L994.9 1442L992.8 1438.4L994.9 1434.8L999.1 1434.8Z"/>
<text class="t" x="997" y="1440.1" font-size="4.6" text-anchor="middle">5</text>
<text class="t" x="1012.7" y="1440" font-size="5.2" textLength="99" lengthAdjust="spacingAndGlyphs">(2) 1.75x9.25 LVL OR LSL GIRDER</text>
<path class="wt" d="M1001.2 1453.8L999.1 1457.4L994.9 1457.4L992.8 1453.8L994.9 1450.2L999.1 1450.2Z"/>
<text class="t" x="997" y="1455.5" font-size="4.6" text-anchor="middle">6</text>
<text class="t" x="1012.7" y="1455.4" font-size="5.2" textLength="99" lengthAdjust="spacingAndGlyphs">(3) 1.75x9.25 LVL OR LSL GIRDER</text>
<text class="t" x="995.5" y="1470.6" font-size="5.2">7.</text>
<text class="t" x="1012.7" y="1470.6" font-size="5.2" textLength="142" lengthAdjust="spacingAndGlyphs">"■" DESIGNATES A SIGNIFICANT POINT LOAD TO</text>
<text class="t" x="1012.7" y="1478.2" font-size="5.2" textLength="155" lengthAdjust="spacingAndGlyphs">HAVE SOLID BLOCKING TO  PIER. SOLID BLOCK ALL</text>
<text class="t" x="1012.7" y="1486" font-size="5.2" textLength="150" lengthAdjust="spacingAndGlyphs">BEAM BEARING POINTS NOTED TO HAVE THREE OR</text>
<text class="t" x="1012.7" y="1493.7" font-size="5.2" textLength="91" lengthAdjust="spacingAndGlyphs">MORE STUDS TO FND, TYPICAL.</text>
<text class="t" x="995.5" y="1508.8" font-size="5.2">8.</text>
<text class="t" x="1012.7" y="1508.8" font-size="5.2" textLength="49" lengthAdjust="spacingAndGlyphs">ABBREVIATIONS:</text>
<circle class="wf" cx="996.3" cy="1514.6" r="1.1"/>
<text class="t" x="1012.7" y="1516.5" font-size="5.2" textLength="59" lengthAdjust="spacingAndGlyphs">"S.J." = SINGLE JOIST</text>
<circle class="wf" cx="996.3" cy="1522.4" r="1.1"/>
<text class="t" x="1012.7" y="1524.3" font-size="5.2" textLength="62" lengthAdjust="spacingAndGlyphs">"D.J." = DOUBLE JOIST</text>
<circle class="wf" cx="996.3" cy="1529.9" r="1.1"/>
<text class="t" x="1012.7" y="1531.8" font-size="5.2" textLength="58" lengthAdjust="spacingAndGlyphs">"T.J." = TRIPLE JOIST</text>
<text class="t" x="995.5" y="1546.8" font-size="5.2">9.</text>
<text class="t" x="1012.7" y="1546.8" font-size="5.2" textLength="147" lengthAdjust="spacingAndGlyphs">ADJUST SUBFLOOR THICKNESS OR JOIST SPACING</text>
<text class="t" x="1012.7" y="1554.6" font-size="5.2" textLength="123" lengthAdjust="spacingAndGlyphs">AS REQ'D FOR FLOOR FINISH MATERIALS.</text>
<path class="w" d="M822.7 876.1L822.7 952.5"/>
<path class="w" d="M824.3 876.1L824.3 952.5"/>
<path class="w" d="M837.4 876.1L837.4 952.5"/>
<path class="w" d="M839.3 876.1L839.3 952.5"/>
<rect class="w" x="820.5" y="952.5" width="21.5" height="2.6"/>
<rect class="w" x="822" y="955.1" width="20.3" height="2.8"/>
<path class="w" d="M822.7 958L822.7 1040.2"/>
<path class="w" d="M842.3 958L842.3 1040.2"/>
<path class="wt" d="M824.6 958L824.6 1040.2"/>
<path class="wt" d="M840.4 958L840.4 1040.2"/>
<path class="w" d="M822.7 979L842.3 979"/>
<path class="wt" d="M822.7 980.4L842.3 980.4"/>
<path class="w" d="M822.7 999.2L842.3 999.2"/>
<path class="wt" d="M822.7 1000.6L842.3 1000.6"/>
<path class="w" d="M822.7 1019.3L842.3 1019.3"/>
<path class="wt" d="M822.7 1020.7L842.3 1020.7"/>
<path class="w" d="M814 959L814 1040.2"/>
<path class="wt" d="M822 959L822 1040.2"/>
<path class="wt" d="M814 959L822 959"/>
<path class="wt" d="M814 965.8L822 965.8"/>
<path class="wt" d="M814 972.6L822 972.6"/>
<path class="wt" d="M814 979.4L822 979.4"/>
<path class="wt" d="M814 986.2L822 986.2"/>
<path class="wt" d="M814 993L822 993"/>
<path class="wt" d="M814 999.8L822 999.8"/>
<path class="wt" d="M814 1006.6L822 1006.6"/>
<path class="wt" d="M814 1013.4L822 1013.4"/>
<path class="wt" d="M814 1020.2L822 1020.2"/>
<path class="wt" d="M814 1027L822 1027"/>
<path class="wt" d="M814 1033.8L822 1033.8"/>
<path class="wt" d="M812.5 955L822 952.8L822 958L813.5 959Z"/>
<path class="w" d="M829.6 950L829.6 1051.8"/>
<path class="wt" d="M831 950L831 1051.8"/>
<circle class="wf" cx="830.3" cy="1052.5" r="1.3"/>
<circle class="wf" cx="830.3" cy="950.5" r="1.6"/>
<rect class="w" x="801.3" y="1040.2" width="51.7" height="20.5"/>
<path class="wt" d="M812.8 1040.2L812.8 1060.7"/>
<path class="bg" d="M801.3 1044L801.3 1048"/>
<path class="w" d="M988.8 863.4L1106 863.4"/>
<path class="w" d="M988.8 858L988.8 956"/>
<path class="w" d="M1106 858L1106 956"/>
<path class="w" d="M986.5 865.6L991 861.2"/>
<path class="w" d="M1103.8 865.6L1108.2 861.2"/>
<text class="t" x="1047.3" y="861.4" font-size="5.2" text-anchor="middle" textLength="25" lengthAdjust="spacingAndGlyphs">48" MAX</text>
<path class="w" d="M992.7 876.1L992.7 952.3"/>
<path class="w" d="M1029.4 876.1L1029.4 952.3"/>
<path class="w" d="M1033.7 876.1L1033.7 952.3"/>
<path class="w" d="M1069.8 876.1L1069.8 952.3"/>
<path class="w" d="M1073.7 876.1L1073.7 952.3"/>
<path class="w" d="M1102 876.1L1102 952.3"/>
<path class="w" d="M1109.8 876.1L1109.8 952.3"/>
<path class="w" d="M988.8 952.3L1106 952.3"/>
<path class="w" d="M988.8 955.2L1106 955.2"/>
<path class="w" d="M988.8 958.8L1106 958.8"/>
<path class="w" d="M988.8 978.1L1106 978.1"/>
<path class="w" d="M988.8 979.9L1106 979.9"/>
<path class="w" d="M988.8 998.8L1106 998.8"/>
<path class="w" d="M988.8 1000.6L1106 1000.6"/>
<path class="w" d="M988.8 1018.4L1106 1018.4"/>
<path class="w" d="M988.8 1020.2L1106 1020.2"/>
<path class="w" d="M988.8 1040.2L1106 1040.2"/>
<path class="w" d="M1027.6 959.8L1027.6 978"/>
<path class="w" d="M1029.2 959.8L1029.2 978"/>
<path class="w" d="M1067.4 959.8L1067.4 978"/>
<path class="w" d="M1069 959.8L1069 978"/>
<path class="w" d="M1006.7 980L1006.7 998.7"/>
<path class="w" d="M1008.3 980L1008.3 998.7"/>
<path class="w" d="M1046.4 980L1046.4 998.7"/>
<path class="w" d="M1048 980L1048 998.7"/>
<path class="w" d="M1085.7 980L1085.7 998.7"/>
<path class="w" d="M1087.3 980L1087.3 998.7"/>
<path class="w" d="M1027.6 1000.7L1027.6 1018.3"/>
<path class="w" d="M1029.2 1000.7L1029.2 1018.3"/>
<path class="w" d="M1067.4 1000.7L1067.4 1018.3"/>
<path class="w" d="M1069 1000.7L1069 1018.3"/>
<path class="w" d="M1006.7 1020.3L1006.7 1039.2"/>
<path class="w" d="M1008.3 1020.3L1008.3 1039.2"/>
<path class="w" d="M1046.4 1020.3L1046.4 1039.2"/>
<path class="w" d="M1048 1020.3L1048 1039.2"/>
<path class="w" d="M1085.7 1020.3L1085.7 1039.2"/>
<path class="w" d="M1087.3 1020.3L1087.3 1039.2"/>
<path class="w" d="M1002.6 951L1002.6 1052"/>
<path class="w" d="M1004.2 951L1004.2 1052"/>
<circle class="wf" cx="1003.4" cy="1052.6" r="1.5"/>
<circle class="wf" cx="1003.4" cy="950.5" r="1.5"/>
<path class="w" d="M1089.8 951L1089.8 1052"/>
<path class="w" d="M1091.4 951L1091.4 1052"/>
<circle class="wf" cx="1090.6" cy="1052.6" r="1.5"/>
<circle class="wf" cx="1090.6" cy="950.5" r="1.5"/>
<path class="w" d="M1160.6 1040.2L979 1040.2L979 1060.7L1160.6 1060.7"/>
<path class="w" d="M1160.6 996L1160.6 1067.5"/>
<path class="w" d="M1106 1017.7L1160.6 1017.7"/>
<path class="w" d="M1106 1027.5L1160.6 1027.5"/>
<path class="w" d="M1106 1039.2L1160.6 1039.2"/>
<path class="grav" d="M1108 1033.5H1160"/>
<path class="w" d="M1106 958.8L1106 1040.2"/>
<path class="w" d="M1177.2 959.1L1177.2 1040.2"/>
<path class="w" d="M1114 959.1L1180 959.1"/>
<path class="w" d="M1164 1040.2L1180 1040.2"/>
<path class="w" d="M1175 961.3L1179.4 956.9"/>
<path class="w" d="M1175 1042.4L1179.4 1038"/>
<text class="t" x="1173.5" y="1001.4" font-size="5.2" text-anchor="middle" transform="rotate(-90 1173.5 1001.4)" textLength="25" lengthAdjust="spacingAndGlyphs">48" MAX</text>
<path class="wt" d="M1003 1046l1.2 -1.2"/>
<path class="wt" d="M1060 1047l1.2 -1.2"/>
<path class="wt" d="M1097 1049l1.2 -1.2"/>
<path class="wt" d="M1112 1047l1.2 -1.2"/>
<path class="wt" d="M1128 1053l1.2 -1.2"/>
<path class="wt" d="M1137 1055l1.2 -1.2"/>
<path class="wt" d="M1029 1057l1.2 -1.2"/>
<path class="wt" d="M849 1051l1.2 -1.2"/>
<path class="wt" d="M833 1056l1.2 -1.2"/>
<text class="t" x="877" y="882.7" font-size="4.7" textLength="52" lengthAdjust="spacingAndGlyphs">2x6 WALL FRAMING</text>
<text class="t" x="877" y="895.8" font-size="4.7" textLength="62" lengthAdjust="spacingAndGlyphs">OPTIONAL WALL PLATE,</text>
<text class="t" x="877" y="902.2" font-size="4.7" textLength="65" lengthAdjust="spacingAndGlyphs">MAY COUNTERSINK BOLT</text>
<text class="t" x="877" y="908.7" font-size="4.7" textLength="54" lengthAdjust="spacingAndGlyphs">IN OPTIONAL PLATE.</text>
<text class="t" x="877" y="920.8" font-size="4.7" textLength="54" lengthAdjust="spacingAndGlyphs">TREATED SILLPLATE</text>
<text class="t" x="877" y="961.8" font-size="4.7" textLength="19" lengthAdjust="spacingAndGlyphs">8" CMU</text>
<text class="t" x="877" y="977.8" font-size="4.7" textLength="66" lengthAdjust="spacingAndGlyphs">⅝" THREADED ROD WITH</text>
<text class="t" x="877" y="983.9" font-size="4.7" textLength="44" lengthAdjust="spacingAndGlyphs">2" CUT WASHERS</text>
<text class="t" x="877" y="990.1" font-size="4.7" textLength="57" lengthAdjust="spacingAndGlyphs">OR SIMPSON "SET OR</text>
<text class="t" x="877" y="997" font-size="4.7" textLength="43" lengthAdjust="spacingAndGlyphs">SET-XP" EPOXY.</text>
<text class="t" x="877" y="1021" font-size="4.7" textLength="53" lengthAdjust="spacingAndGlyphs">CONCRETE FOOTING</text>
<text class="t" x="877" y="1028.2" font-size="4.7" textLength="33" lengthAdjust="spacingAndGlyphs">(SEE PLANS)</text>
<text class="t" x="877" y="1047.4" font-size="4.7" textLength="60" lengthAdjust="spacingAndGlyphs">3" CONC. COVER (TYP)</text>
<path class="wt" d="M873 881L860 881L836 896"/>
<path class="wt" d="M873 894.1L862 894.1L840 953"/>
<path class="wt" d="M873 919.1L866 919.1L841 956.5"/>
<path class="wt" d="M873 960.1L867 960.1L843 990"/>
<path class="wt" d="M873 985.5L866 985.5L831 1013"/>
<path class="wt" d="M873 1023.5L866 1023.5L851 1039.5"/>
<path class="wt" d="M873 1045.7L866 1045.7L828 1057.5"/>
<path class="wt" d="M931 881L975 881L1029 913"/>
<path class="wt" d="M942 894.1L980 894.1L1023 951"/>
<path class="wt" d="M935 919.1L968 919.1L996 954"/>
<path class="wt" d="M900 960.1L953 960.1L988 988"/>
<path class="wt" d="M942 985.5L960 985.5L1002 1012"/>
<path class="wt" d="M932 1023.5L948 1023.5L977 1044"/>
<path class="wt" d="M959 1024.5L988 1022"/>
<text class="t" x="1137.2" y="923.3" font-size="4.7" textLength="39" lengthAdjust="spacingAndGlyphs">GARAGE SLAB</text>
<text class="t" x="1137.2" y="930" font-size="4.7" textLength="48" lengthAdjust="spacingAndGlyphs">OVER GRAVEL AS</text>
<text class="t" x="1137.2" y="936.4" font-size="4.7" textLength="30" lengthAdjust="spacingAndGlyphs">SPECIFIED</text>
<path class="wt" d="M1133 921.6L1116 921.6L1127 1016"/>
<text class="t" x="770" y="952" font-size="4.7" textLength="36" lengthAdjust="spacingAndGlyphs" text-anchor="start">OPTIONAL BRICK</text>
<text class="t" x="770" y="958.6" font-size="4.7" textLength="19.5" lengthAdjust="spacingAndGlyphs">(OR OTHER)</text>
<path class="wt" d="M797 956L803 956L813 976"/>
<text class="t" x="816.3" y="1079" font-size="5.6" textLength="29.3" lengthAdjust="spacingAndGlyphs">SECTION</text>
<path class="wt" d="M816.3 1080.5L845.6 1080.5"/>
<text class="t" x="1040.5" y="1079" font-size="5.6" textLength="39" lengthAdjust="spacingAndGlyphs">ELEVATION</text>
<path class="wt" d="M1040.5 1080.5L1079.6 1080.5"/>
<circle class="w" cx="859.8" cy="1109.5" r="12"/>
<path class="wt" d="M847.8 1109.5L877 1109.5"/>
<text class="t" x="859.8" y="1106.5" font-size="5.6" text-anchor="middle" textLength="13" lengthAdjust="spacingAndGlyphs">407</text>
<text class="t" x="859.8" y="1116.9" font-size="5.2" text-anchor="middle" textLength="10" lengthAdjust="spacingAndGlyphs">S-1</text>
<text class="t" x="876.4" y="1109.3" font-size="13.4" textLength="215" lengthAdjust="spacingAndGlyphs">GARAGE 'WING WALL' REINFORCING</text>
<path class="wt" d="M876.4 1111.2L1091.5 1111.2"/>
<path class="wt" d="M876.4 1112.6L1091.5 1112.6"/>
<text class="t" x="876.4" y="1120.3" font-size="8" textLength="109.5" lengthAdjust="spacingAndGlyphs" font-style="italic">PER IRC FIGURE R602.10.4.3</text>
<rect class="y2" x="1877.2" y="1509" width="170.6" height="33.9"/>
<path class="y2" d="M1877.2 1522.6L2047.8 1522.6"/>
<text class="tm" x="1962.5" y="1519" font-size="8.4" text-anchor="middle" textLength="122" lengthAdjust="spacingAndGlyphs">WALL VENTED CRAWL SPACE</text>
<text class="ty" x="1879.5" y="1527.5" font-size="4" textLength="21" lengthAdjust="spacingAndGlyphs">REQUIRED</text>
<text class="t" x="1901" y="1538" font-size="5.8" textLength="16" lengthAdjust="spacingAndGlyphs">3206</text>
<path class="wt" d="M1898 1539.7L1918 1539.7"/>
<text class="tb" x="1922.5" y="1539.6" font-size="4" textLength="29" lengthAdjust="spacingAndGlyphs">SQ. FT. / 150 =</text>
<text class="t" x="1968" y="1538" font-size="5.8" textLength="13" lengthAdjust="spacingAndGlyphs">21.37</text>
<path class="wt" d="M1955 1539.7L1993 1539.7"/>
<text class="tb" x="1996" y="1539.6" font-size="4" textLength="48" lengthAdjust="spacingAndGlyphs">SQ. FT. OF VENTILATION</text>
<rect class="y2" x="1877.2" y="1552.5" width="170.6" height="122.4"/>
<path class="y2" d="M1877.2 1582L2047.8 1582"/>
<text class="tm" x="1962" y="1563.3" font-size="8.4" text-anchor="middle" textLength="99" lengthAdjust="spacingAndGlyphs">CLOSED CRAWL SPACE</text>
<text class="tm" x="1962" y="1572.4" font-size="8.4" text-anchor="middle" textLength="96" lengthAdjust="spacingAndGlyphs">VENTILATION METHODS</text>
<text class="tb" x="1962" y="1579.7" font-size="4" text-anchor="middle" textLength="160" lengthAdjust="spacingAndGlyphs">(SEE REFERENCED SECTIONS IN CODE BOOK FOR DETAILED INSTRUCTIONS)</text>
<text class="ty" x="1881.5" y="1588.8" font-size="4" textLength="52" lengthAdjust="spacingAndGlyphs">(R408.3.1)  DEHUMIDIFIER</text>
<text class="tb" x="1884" y="1593.8" font-size="4" textLength="152" lengthAdjust="spacingAndGlyphs">A PERMANENTLY INSTALLED DEHUMIDIFIER SHALL BE PROVIDED IN THE</text>
<text class="tb" x="1884" y="1598.9" font-size="4" textLength="156" lengthAdjust="spacingAndGlyphs">CRAWL SPACE WITH THE MINIMUM RATED CAPACITY OF 15 PINTS PER DAY.</text>
<text class="ty" x="1881.5" y="1606.3" font-size="4" textLength="49" lengthAdjust="spacingAndGlyphs">(R408.3.2)  SUPPLY AIR</text>
<text class="t" x="1906" y="1614.3" font-size="5.8" textLength="14" lengthAdjust="spacingAndGlyphs">3206</text>
<path class="wt" d="M1903 1615.9L1922 1615.9"/>
<text class="tb" x="1927" y="1615.8" font-size="4" textLength="28" lengthAdjust="spacingAndGlyphs">SQ. FT. / 30 =</text>
<text class="t" x="1979" y="1614.4" font-size="5.8" text-anchor="middle">107</text>
<path class="wt" d="M1960 1615.9L1999 1615.9"/>
<text class="tb" x="2002" y="1615.8" font-size="4" textLength="9" lengthAdjust="spacingAndGlyphs">CFM</text>
<text class="ty" x="1881.5" y="1622.8" font-size="4" textLength="46" lengthAdjust="spacingAndGlyphs">(R408.3.3)  HOUSE AIR</text>
<text class="t" x="1906" y="1630.8" font-size="5.8" textLength="14" lengthAdjust="spacingAndGlyphs">3206</text>
<path class="wt" d="M1903 1632.4L1922 1632.4"/>
<text class="tb" x="1927" y="1632.3" font-size="4" textLength="28" lengthAdjust="spacingAndGlyphs">SQ. FT. / 30 =</text>
<text class="t" x="1979" y="1630.9" font-size="5.8" text-anchor="middle">65</text>
<path class="wt" d="M1960 1632.4L1999 1632.4"/>
<text class="tb" x="2002" y="1632.3" font-size="4" textLength="9" lengthAdjust="spacingAndGlyphs">CFM</text>
<text class="ty" x="1881.5" y="1638.8" font-size="4" textLength="52" lengthAdjust="spacingAndGlyphs">(R408.3.4)  EXHAUST FAN</text>
<text class="t" x="1906" y="1646.8" font-size="5.8" textLength="14" lengthAdjust="spacingAndGlyphs">3206</text>
<path class="wt" d="M1903 1648.4L1922 1648.4"/>
<text class="tb" x="1927" y="1648.3" font-size="4" textLength="28" lengthAdjust="spacingAndGlyphs">SQ. FT. / 30 =</text>
<text class="t" x="1979" y="1646.9" font-size="5.8" text-anchor="middle">65</text>
<path class="wt" d="M1960 1648.4L1999 1648.4"/>
<text class="tb" x="2002" y="1648.3" font-size="4" textLength="9" lengthAdjust="spacingAndGlyphs">CFM</text>
<text class="ty" x="1881.5" y="1656" font-size="4" textLength="68" lengthAdjust="spacingAndGlyphs">(R408.3.5)  CONDITIONED SPACE</text>
<text class="tb" x="1884" y="1661" font-size="4" textLength="147" lengthAdjust="spacingAndGlyphs">THE CRAWL SPACE SHALL BE DESIGNED AS A HEATED AND COOLED,</text>
<text class="tb" x="1884" y="1666" font-size="4" textLength="144" lengthAdjust="spacingAndGlyphs">CONDITIONED SPACE WITH WALL INSULATION INSTALLED AS PER THE</text>
<text class="tb" x="1884" y="1671" font-size="4" textLength="76" lengthAdjust="spacingAndGlyphs">REQUIREMENTS OF SECTION R409.5.1.</text>
<text class="t" x="2077" y="1609.9" font-size="13.2" textLength="115" lengthAdjust="spacingAndGlyphs">FOUNDATION PLAN</text>
<path class="wt" d="M2077 1611.7L2192 1611.7"/>
<path class="wt" d="M2077 1613.1L2192 1613.1"/>
<text class="tcy" x="2094" y="1618.2" font-size="5.2" textLength="80.5" lengthAdjust="spacingAndGlyphs">SCALE: - - - - - - - - - - - -  1/8"=1'-0"</text>
<text class="t" x="2079.6" y="1643.6" font-size="5" textLength="19.5" lengthAdjust="spacingAndGlyphs">NOTES:</text>
<path class="wt" d="M2079.6 1644.8L2099.3 1644.8"/>
<text class="t" x="2079.6" y="1653.3" font-size="5" textLength="91" lengthAdjust="spacingAndGlyphs">1)  SEE SHEET D-1 FOR DETAILS.</text>
<text class="t" x="2079.6" y="1661.8" font-size="5" textLength="147" lengthAdjust="spacingAndGlyphs">2)  DIMENSIONS ARE TO EXTERIOR OF FOUNDATION.</text>
</svg></body></html>
